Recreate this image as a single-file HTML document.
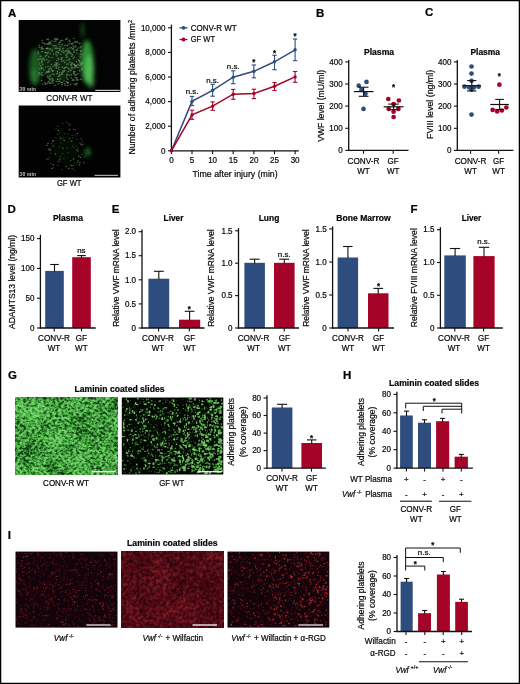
<!DOCTYPE html>
<html lang="en"><head><meta charset="utf-8"><title>Figure</title>
<style>
html,body{margin:0;padding:0;background:#fff;}
body{width:520px;height:684px;overflow:hidden;}
svg{display:block;font-family:"Liberation Sans",Arial,Helvetica,sans-serif;}
text{stroke:#141414;stroke-width:0.22px;}
text.w{stroke:none;}
</style></head><body>
<svg width="520" height="684" viewBox="0 0 520 684">
<defs>
<filter id="fG1" x="0" y="0" width="100%" height="100%" color-interpolation-filters="sRGB">
 <feTurbulence type="fractalNoise" baseFrequency="0.34 0.40" numOctaves="3" seed="7"/>
 <feColorMatrix type="matrix" values="1 0 0 0 0  1 0 0 0 0  1 0 0 0 0  0 0 0 0 1" result="f"/>
 <feTurbulence type="fractalNoise" baseFrequency="0.045" numOctaves="2" seed="21"/>
 <feColorMatrix type="matrix" values="1 0 0 0 0  1 0 0 0 0  1 0 0 0 0  0 0 0 0 1" result="c"/>
 <feComposite in="f" in2="c" operator="arithmetic" k1="0" k2="2.2" k3="0.9" k4="-1.03"/>
 <feComponentTransfer>
  <feFuncR type="table" tableValues="0.07 0.15 0.25 0.36 0.45"/>
  <feFuncG type="table" tableValues="0.24 0.42 0.60 0.75 0.84"/>
  <feFuncB type="table" tableValues="0.08 0.15 0.23 0.33 0.42"/>
 </feComponentTransfer>
 <feGaussianBlur stdDeviation="0.5"/>
</filter>
<filter id="fG2" x="0" y="0" width="100%" height="100%" color-interpolation-filters="sRGB">
 <feTurbulence type="fractalNoise" baseFrequency="0.44" numOctaves="2" seed="3"/>
 <feColorMatrix type="matrix" values="1 0 0 0 0  1 0 0 0 0  1 0 0 0 0  0 0 0 0 1" result="f"/>
 <feComposite in="f" in2="SourceGraphic" operator="arithmetic" k1="0" k2="4.0" k3="1.0" k4="-2.45"/>
 <feComponentTransfer>
  <feFuncR type="table" tableValues="0.01 0.18 0.36 0.48"/>
  <feFuncG type="table" tableValues="0.02 0.42 0.74 0.88"/>
  <feFuncB type="table" tableValues="0.01 0.15 0.30 0.40"/>
 </feComponentTransfer>
 <feGaussianBlur stdDeviation="0.35"/>
</filter>
<filter id="fI1" x="0" y="0" width="100%" height="100%" color-interpolation-filters="sRGB">
 <feTurbulence type="fractalNoise" baseFrequency="0.36" numOctaves="3" seed="5"/>
 <feColorMatrix type="matrix" values="1 0 0 0 0  1 0 0 0 0  1 0 0 0 0  0 0 0 0 1" result="f"/>
 <feTurbulence type="fractalNoise" baseFrequency="0.03" numOctaves="2" seed="6"/>
 <feColorMatrix type="matrix" values="1 0 0 0 0  1 0 0 0 0  1 0 0 0 0  0 0 0 0 1" result="c"/>
 <feComposite in="f" in2="c" operator="arithmetic" k1="0" k2="4.5" k3="1.2" k4="-2.75"/>
 <feComponentTransfer>
  <feFuncR type="table" tableValues="0.06 0.20 0.36 0.45"/>
  <feFuncG type="table" tableValues="0.015 0.04 0.07 0.09"/>
  <feFuncB type="table" tableValues="0.04 0.06 0.09 0.11"/>
 </feComponentTransfer>
</filter>
<filter id="fI2" x="0" y="0" width="100%" height="100%" color-interpolation-filters="sRGB">
 <feTurbulence type="fractalNoise" baseFrequency="0.30" numOctaves="3" seed="9"/>
 <feColorMatrix type="matrix" values="1 0 0 0 0  1 0 0 0 0  1 0 0 0 0  0 0 0 0 1" result="f"/>
 <feTurbulence type="fractalNoise" baseFrequency="0.04" numOctaves="2" seed="10"/>
 <feColorMatrix type="matrix" values="1 0 0 0 0  1 0 0 0 0  1 0 0 0 0  0 0 0 0 1" result="c"/>
 <feComposite in="f" in2="c" operator="arithmetic" k1="0" k2="1.6" k3="0.6" k4="-0.60"/>
 <feComponentTransfer>
  <feFuncR type="table" tableValues="0.15 0.23 0.31 0.40 0.50"/>
  <feFuncG type="table" tableValues="0.01 0.025 0.045 0.07 0.11"/>
  <feFuncB type="table" tableValues="0.04 0.06 0.085 0.11 0.14"/>
 </feComponentTransfer>
 <feGaussianBlur stdDeviation="0.4"/>
</filter>
<filter id="fI3" x="0" y="0" width="100%" height="100%" color-interpolation-filters="sRGB">
 <feTurbulence type="fractalNoise" baseFrequency="0.40" numOctaves="2" seed="13"/>
 <feColorMatrix type="matrix" values="1 0 0 0 0  1 0 0 0 0  1 0 0 0 0  0 0 0 0 1" result="f"/>
 <feComposite in="f" in2="SourceGraphic" operator="arithmetic" k1="0" k2="4.0" k3="1.0" k4="-2.55"/>
 <feComponentTransfer>
  <feFuncR type="table" tableValues="0.06 0.32 0.55 0.70"/>
  <feFuncG type="table" tableValues="0.01 0.05 0.10 0.15"/>
  <feFuncB type="table" tableValues="0.04 0.08 0.12 0.16"/>
 </feComponentTransfer>
 <feGaussianBlur stdDeviation="0.35"/>
</filter>
<filter id="blur3" x="-50%" y="-50%" width="200%" height="200%"><feGaussianBlur stdDeviation="2.2"/></filter>
<filter id="blur1" x="-50%" y="-50%" width="200%" height="200%"><feGaussianBlur stdDeviation="1.1"/></filter>
<filter id="blur05" x="-20%" y="-20%" width="140%" height="140%"><feGaussianBlur stdDeviation="0.35"/></filter>
<linearGradient id="gG2" x1="0" y1="0" x2="1" y2="0.7">
 <stop offset="0" stop-color="#505050"/><stop offset="0.5" stop-color="#707070"/><stop offset="1" stop-color="#a8a8a8"/>
</linearGradient>
<linearGradient id="gI3" x1="0" y1="0.2" x2="1" y2="0.5">
 <stop offset="0" stop-color="#585858"/><stop offset="0.5" stop-color="#787878"/><stop offset="1" stop-color="#989898"/>
</linearGradient>
<mask id="mG2"><rect x="121.8" y="397.5" width="101.5" height="77" fill="url(#gG2)"/></mask>
<clipPath id="cA1"><rect x="18.7" y="20" width="101.7" height="72"/></clipPath>
<clipPath id="cA2"><rect x="18.7" y="105.5" width="101.7" height="72"/></clipPath>
</defs>
<rect x="0.0" y="0.0" width="520.0" height="684.0" fill="#fff"/>
<rect x="0.6" y="0.6" width="518.8" height="682.8" fill="none" stroke="#000" stroke-width="1.3"/>
<text font-size="11.5" font-weight="bold" transform="translate(7.9 16.5)" fill="#000" stroke="#000">A</text>
<text font-size="11.5" font-weight="bold" transform="translate(316.0 16.5)" fill="#000" stroke="#000">B</text>
<text font-size="11.5" font-weight="bold" transform="translate(425.0 16.4)" fill="#000" stroke="#000">C</text>
<text font-size="11.5" font-weight="bold" transform="translate(7.4 213.2)" fill="#000" stroke="#000">D</text>
<text font-size="11.5" font-weight="bold" transform="translate(111.8 213.2)" fill="#000" stroke="#000">E</text>
<text font-size="11.5" font-weight="bold" transform="translate(410.4 213.2)" fill="#000" stroke="#000">F</text>
<text font-size="11.5" font-weight="bold" transform="translate(8.0 378.8)" fill="#000" stroke="#000">G</text>
<text font-size="11.5" font-weight="bold" transform="translate(343.0 378.7)" fill="#000" stroke="#000">H</text>
<text font-size="11.5" font-weight="bold" transform="translate(7.7 539.3)" fill="#000" stroke="#000">I</text>
<rect x="18.7" y="20.0" width="101.7" height="72.0" fill="#020302"/>
<g clip-path="url(#cA1)">
<g filter="url(#blur3)">
<ellipse cx="35.3" cy="67" rx="6.2" ry="18.5" fill="#226a28" opacity="0.8"/>
<ellipse cx="33.5" cy="76" rx="3" ry="8" fill="#38a03e" opacity="0.5"/>
<ellipse cx="87" cy="62" rx="6.4" ry="22" fill="#2f9637" opacity="0.95"/>
<ellipse cx="89.5" cy="70" rx="4.6" ry="15" fill="#58c45c" opacity="0.8"/>
<ellipse cx="91" cy="82" rx="3.5" ry="6" fill="#4db852" opacity="0.6"/>
<ellipse cx="82.5" cy="30" rx="1.4" ry="8" fill="#2a8230" opacity="0.7"/>
<ellipse cx="59" cy="62" rx="19" ry="20" fill="#0c2a0f" opacity="0.8"/>
</g>
<path d="M66.1 39.2h.6M50.1 48.7h.6M70.4 70.5h.6M77.3 42.2h.6M56.6 39.4h.6M47.6 62.3h.6M39.2 47.5h.6M66.6 64.2h.6M47.7 66.3h.6M73.6 38.3h.6M73.5 71.5h.6M53.0 45.5h.6M80.1 54.2h.6M42.1 42.6h.6M75.3 67.0h.6M73.5 73.0h.6M61.6 84.7h.6M54.7 64.5h.6M74.5 67.7h.6M75.9 65.7h.6M69.0 40.2h.6M48.0 51.9h.6M41.5 49.2h.6M42.4 51.3h.6M66.0 55.5h.6M54.3 48.1h.6M49.7 83.0h.6M66.5 67.2h.6M45.5 73.0h.6M45.2 56.2h.6M81.5 68.7h.6M62.5 70.9h.6M75.1 75.2h.6M48.1 39.5h.6M51.9 50.9h.6M47.3 83.3h.6M76.6 53.1h.6M66.8 57.0h.6M78.2 60.0h.6M49.7 49.8h.6M62.7 50.6h.6M63.7 81.1h.6M55.6 48.5h.6M81.9 62.5h.6M42.0 40.3h.6M42.8 68.1h.6M72.9 58.3h.6M40.8 56.3h.6M81.8 63.4h.6M80.7 79.3h.6M38.5 72.6h.6M68.0 63.8h.6M49.7 68.8h.6M42.9 58.9h.6M58.0 83.8h.6M76.5 50.6h.6M60.0 46.6h.6M78.2 79.8h.6M51.1 68.7h.6M64.8 45.3h.6M71.6 63.9h.6M72.3 63.5h.6M38.0 53.6h.6M76.7 77.9h.6M51.5 40.8h.6M76.6 83.5h.6M41.8 61.3h.6M41.0 74.5h.6M71.7 44.2h.6M58.9 64.4h.6M49.7 79.9h.6M56.6 48.2h.6M61.7 73.0h.6M46.9 53.0h.6M81.8 69.2h.6M57.3 62.8h.6M43.3 48.8h.6M52.9 66.2h.6M48.1 48.6h.6M41.1 68.3h.6M48.1 81.5h.6M75.8 41.4h.6M48.5 70.1h.6M47.4 44.4h.6M79.2 65.4h.6M58.8 75.7h.6M73.5 47.1h.6M42.3 58.7h.6M56.6 60.4h.6M70.1 70.3h.6M55.7 54.3h.6M75.9 49.9h.6M46.4 59.5h.6M56.6 51.4h.6M49.0 82.3h.6M57.5 79.3h.6M62.2 40.4h.6M75.3 46.0h.6M59.4 48.3h.6M55.6 40.8h.6M54.7 85.3h.6M49.7 75.6h.6M58.0 58.3h.6M62.5 72.5h.6M44.8 52.2h.6M80.6 65.8h.6M61.9 73.9h.6M40.5 66.0h.6M60.1 78.9h.6M44.9 84.1h.6M41.5 46.9h.6M64.2 70.4h.6M48.3 43.8h.6M77.2 49.8h.6M64.2 67.7h.6M56.4 66.0h.6M61.0 82.9h.6M47.0 72.4h.6M48.5 57.0h.6M67.6 52.4h.6M51.9 74.1h.6M41.2 60.0h.6M41.2 48.2h.6M49.7 82.8h.6M76.8 80.2h.6M54.3 45.6h.6M74.7 71.8h.6M64.9 85.4h.6M66.8 38.4h.6M74.0 52.4h.6M67.2 83.1h.6M43.9 43.5h.6M42.7 64.6h.6M50.0 67.0h.6M69.6 47.8h.6M65.9 50.7h.6M59.5 81.5h.6M75.2 42.4h.6M56.6 51.3h.6M38.2 75.0h.6M66.0 50.6h.6M70.6 64.5h.6M56.8 38.5h.6M41.3 80.4h.6M77.8 64.2h.6M74.7 66.0h.6M44.5 44.1h.6M51.6 81.2h.6M73.0 79.3h.6M77.6 48.1h.6M49.0 42.9h.6M72.3 80.4h.6M55.9 67.8h.6M44.8 82.6h.6M76.0 84.9h.6M73.7 80.3h.6M39.1 73.4h.6M52.6 82.7h.6M73.3 79.5h.6M73.7 50.8h.6M72.6 43.2h.6M76.4 79.2h.6M47.8 77.2h.6M58.3 52.6h.6M73.0 48.9h.6M39.0 47.3h.6M52.4 79.5h.6M80.5 51.4h.6M66.2 57.2h.6M81.2 63.7h.6M79.3 43.5h.6M80.7 46.6h.6M80.4 50.7h.6M42.8 58.9h.6M70.1 53.1h.6M64.7 62.5h.6M54.9 65.7h.6M49.2 72.0h.6M61.7 72.5h.6M70.6 70.2h.6M54.0 41.4h.6M67.2 53.8h.6M51.8 78.7h.6M69.7 52.4h.6M51.6 57.6h.6M55.7 52.2h.6M43.6 58.2h.6M79.4 70.5h.6M77.7 67.5h.6M51.2 64.3h.6M38.0 51.8h.6M56.9 65.8h.6M66.8 60.3h.6M57.5 48.3h.6M58.8 81.3h.6M73.0 46.1h.6M41.7 62.7h.6M65.8 54.1h.6M74.0 74.1h.6M67.6 48.8h.6M46.8 39.2h.6M48.8 60.8h.6M75.4 41.5h.6M56.2 68.2h.6M46.6 71.4h.6M59.8 49.7h.6M66.9 38.3h.6M71.0 75.0h.6M42.7 58.4h.6M45.7 84.0h.6M60.8 40.4h.6M49.0 78.7h.6M58.1 76.5h.6M67.4 85.4h.6M64.2 83.6h.6M77.2 67.4h.6M69.6 62.2h.6M74.5 64.3h.6M77.5 73.7h.6M58.9 50.4h.6M48.9 68.6h.6M71.7 63.0h.6M65.6 51.2h.6M41.4 51.7h.6M50.0 53.3h.6M61.8 44.6h.6M48.2 71.3h.6M69.1 41.1h.6M55.9 64.0h.6M56.3 47.9h.6M56.5 81.4h.6M63.7 71.4h.6M75.7 74.7h.6M54.7 38.3h.6M53.5 74.2h.6M75.6 83.8h.6M56.4 73.9h.6M62.0 67.0h.6M47.7 48.5h.6M57.2 39.4h.6M52.8 70.6h.6M55.8 45.9h.6M58.6 44.1h.6M65.4 39.3h.6M55.3 65.1h.6M39.2 68.9h.6M44.0 60.2h.6M40.2 56.2h.6M47.3 53.7h.6M71.5 56.2h.6M71.1 77.9h.6M49.1 41.9h.6M38.9 63.9h.6M82.0 54.8h.6M66.6 75.5h.6M66.7 74.2h.6M79.8 47.6h.6M38.9 45.3h.6M43.6 70.1h.6M62.8 48.5h.6M68.8 74.8h.6M45.4 67.1h.6M70.9 43.5h.6M74.0 84.3h.6M51.7 70.5h.6M80.2 57.0h.6M69.5 41.6h.6M68.4 68.1h.6M42.5 75.1h.6M75.4 66.8h.6M72.4 54.7h.6M56.8 55.8h.6M60.3 54.4h.6M75.4 77.5h.6M42.6 84.1h.6M66.0 77.8h.6M69.1 58.9h.6M70.3 84.3h.6M49.9 76.8h.6M61.7 61.2h.6M57.2 73.1h.6M49.8 78.9h.6M74.6 42.2h.6M76.8 49.7h.6M58.4 67.3h.6M54.7 39.4h.6M75.4 46.7h.6M47.3 76.3h.6M53.0 80.3h.6M68.9 51.3h.6M41.8 72.6h.6M59.5 74.4h.6M68.4 69.0h.6M59.6 76.1h.6M42.1 48.6h.6M68.4 52.7h.6M63.6 60.7h.6M61.4 58.4h.6M70.8 53.9h.6M68.9 51.0h.6" stroke="#6a9c68" stroke-width="1.35" stroke-linecap="round" fill="none" opacity="0.62" filter="url(#blur05)"/>
<path d="M49.1 43.8h.4M46.5 43.7h.4M61.6 74.6h.4M46.1 48.4h.4M59.3 72.8h.4M81.0 63.2h.4M50.5 42.8h.4M46.5 48.9h.4M61.5 51.2h.4M80.9 64.6h.4M68.7 44.1h.4M76.2 61.6h.4M76.4 65.6h.4M58.7 59.1h.4M79.4 60.9h.4M74.2 57.2h.4M41.3 68.2h.4M62.8 52.6h.4M71.6 67.1h.4M72.8 48.8h.4M61.0 59.6h.4M57.5 79.3h.4M65.3 67.3h.4M47.1 48.1h.4M67.1 45.5h.4M38.1 59.6h.4M64.1 52.0h.4M48.2 71.9h.4M68.9 59.8h.4M68.2 82.3h.4M72.7 68.0h.4M67.1 82.8h.4M56.7 64.1h.4M66.5 81.6h.4M45.3 52.8h.4M71.0 65.3h.4M50.7 44.0h.4M68.3 71.6h.4M79.5 62.0h.4M59.7 41.9h.4M39.8 58.7h.4M52.2 50.0h.4M74.8 65.6h.4M67.6 50.9h.4M58.7 69.3h.4M63.8 68.5h.4M59.6 42.4h.4M53.3 54.0h.4M67.5 79.2h.4M52.5 71.3h.4M50.7 83.4h.4M73.8 64.4h.4M58.0 53.1h.4M55.8 62.7h.4M61.9 57.8h.4M46.3 55.4h.4M71.3 68.0h.4M71.4 47.8h.4M62.2 82.5h.4M57.3 71.5h.4" stroke="#a8c490" stroke-width="1.0" stroke-linecap="round" fill="none" opacity="0.7" filter="url(#blur05)"/>
</g>
<text font-size="5.6" font-weight="bold" textLength="16.4" lengthAdjust="spacingAndGlyphs" transform="translate(19.6 91.0)" fill="#f2f2f2" stroke="#f2f2f2">30 min</text>
<line x1="95.3" y1="90.4" x2="119.8" y2="90.4" stroke="#d0d0d0" stroke-width="1.2"/>
<text font-size="8.7" text-anchor="middle" textLength="46.2" lengthAdjust="spacingAndGlyphs" transform="translate(69.4 100.7)">CONV-R WT</text>
<rect x="18.7" y="105.5" width="101.7" height="72.0" fill="#020202"/>
<g clip-path="url(#cA2)">
<g filter="url(#blur3)">
<ellipse cx="66" cy="150" rx="12" ry="14" fill="#061507" opacity="0.7"/>
<ellipse cx="87.5" cy="152" rx="3.2" ry="4.5" fill="#1c6a26" opacity="0.85"/>
</g>
<path d="M75.2 129.7h.5M53.6 146.2h.5M68.1 123.2h.5M59.1 161.2h.5M72.5 137.3h.5M59.3 158.9h.5M70.4 160.5h.5M59.6 132.8h.5M74.2 169.9h.5M71.9 135.3h.5M72.5 145.8h.5M67.9 134.1h.5M73.4 129.4h.5M81.7 154.4h.5M77.9 160.5h.5M74.3 163.1h.5M71.2 141.2h.5M80.7 138.7h.5M62.3 153.7h.5M77.2 162.1h.5M64.2 133.8h.5M49.3 150.5h.5M81.8 140.0h.5M50.7 150.6h.5M48.2 159.2h.5M60.1 136.9h.5M53.0 145.2h.5M87.8 149.8h.5M57.6 165.4h.5M52.9 141.4h.5M46.5 159.6h.5M89.3 152.9h.5M53.6 140.4h.5M76.7 139.5h.5M58.0 161.8h.5M55.6 137.4h.5M73.5 147.5h.5M59.2 147.0h.5M78.9 156.5h.5M69.8 164.9h.5M59.7 159.3h.5M75.1 135.7h.5M78.5 155.2h.5M77.6 161.4h.5M76.2 164.9h.5M67.2 147.7h.5M60.2 156.6h.5M71.9 168.5h.5M84.7 156.6h.5M62.3 123.1h.5M63.6 158.9h.5M67.8 152.7h.5M78.3 148.0h.5M72.9 165.5h.5M52.7 167.2h.5M60.6 143.1h.5M50.7 164.0h.5M78.2 156.4h.5M65.9 122.2h.5M69.5 138.6h.5M50.8 153.3h.5M72.1 168.8h.5M63.2 138.1h.5M52.0 146.9h.5M49.3 157.6h.5M55.9 128.4h.5M58.0 126.2h.5M46.7 158.9h.5M57.4 134.2h.5M81.8 142.2h.5M83.3 144.2h.5M51.2 143.7h.5M71.0 141.3h.5M69.0 138.3h.5M78.9 143.0h.5M76.4 146.1h.5M61.6 169.7h.5M71.5 141.0h.5" stroke="#467a48" stroke-width="0.95" stroke-linecap="round" fill="none" opacity="0.65" filter="url(#blur05)"/>
<path d="M51.8 168.6h.5M80.4 144.0h.5M65.9 166.5h.5M69.5 124.9h.5M55.1 154.0h.5M47.8 143.6h.5M68.5 168.4h.5M80.5 157.2h.5M79.3 164.9h.5M73.2 159.0h.5M58.2 130.5h.5M62.6 148.1h.5M69.2 129.6h.5M48.4 149.1h.5M76.6 149.9h.5M77.0 133.4h.5M71.5 165.4h.5M46.7 145.4h.5M60.5 138.6h.5M52.5 141.0h.5M63.8 140.5h.5M77.8 151.0h.5M53.1 164.7h.5M81.6 144.9h.5M83.6 162.9h.5M49.9 149.2h.5M79.7 162.2h.5" stroke="#b4c48a" stroke-width="0.9" stroke-linecap="round" fill="none" opacity="0.7" filter="url(#blur05)"/>
</g>
<text font-size="5.6" font-weight="bold" textLength="16.4" lengthAdjust="spacingAndGlyphs" transform="translate(19.6 175.9)" fill="#f2f2f2" stroke="#f2f2f2">30 min</text>
<line x1="94.5" y1="175.4" x2="118.0" y2="175.4" stroke="#a8a8a8" stroke-width="1.2"/>
<text font-size="8.7" text-anchor="middle" textLength="24.5" lengthAdjust="spacingAndGlyphs" transform="translate(69.2 186.3)">GF WT</text>
<line x1="171.4" y1="24.7" x2="171.4" y2="151.5" stroke="#111" stroke-width="1.3"/>
<line x1="170.8" y1="150.8" x2="298.8" y2="150.8" stroke="#111" stroke-width="1.3"/>
<line x1="168.0" y1="150.8" x2="171.4" y2="150.8" stroke="#111" stroke-width="1.1"/>
<text font-size="8.7" text-anchor="end" transform="translate(165.5 153.5) scale(0.925 1)">0</text>
<line x1="168.0" y1="126.2" x2="171.4" y2="126.2" stroke="#111" stroke-width="1.1"/>
<text font-size="8.7" text-anchor="end" transform="translate(165.5 128.9) scale(0.925 1)">2,000</text>
<line x1="168.0" y1="101.6" x2="171.4" y2="101.6" stroke="#111" stroke-width="1.1"/>
<text font-size="8.7" text-anchor="end" transform="translate(165.5 104.3) scale(0.925 1)">4,000</text>
<line x1="168.0" y1="77.0" x2="171.4" y2="77.0" stroke="#111" stroke-width="1.1"/>
<text font-size="8.7" text-anchor="end" transform="translate(165.5 79.7) scale(0.925 1)">6,000</text>
<line x1="168.0" y1="52.4" x2="171.4" y2="52.4" stroke="#111" stroke-width="1.1"/>
<text font-size="8.7" text-anchor="end" transform="translate(165.5 55.1) scale(0.925 1)">8,000</text>
<line x1="168.0" y1="27.8" x2="171.4" y2="27.8" stroke="#111" stroke-width="1.1"/>
<text font-size="8.7" text-anchor="end" transform="translate(165.5 30.5) scale(0.925 1)">10,000</text>
<line x1="171.4" y1="150.8" x2="171.4" y2="154.2" stroke="#111" stroke-width="1.1"/>
<line x1="192.0" y1="150.8" x2="192.0" y2="154.2" stroke="#111" stroke-width="1.1"/>
<line x1="212.6" y1="150.8" x2="212.6" y2="154.2" stroke="#111" stroke-width="1.1"/>
<line x1="233.2" y1="150.8" x2="233.2" y2="154.2" stroke="#111" stroke-width="1.1"/>
<line x1="253.9" y1="150.8" x2="253.9" y2="154.2" stroke="#111" stroke-width="1.1"/>
<line x1="274.5" y1="150.8" x2="274.5" y2="154.2" stroke="#111" stroke-width="1.1"/>
<line x1="295.1" y1="150.8" x2="295.1" y2="154.2" stroke="#111" stroke-width="1.1"/>
<text font-size="8.7" text-anchor="middle" transform="translate(171.4 163.4) scale(0.925 1)">0</text>
<text font-size="8.7" text-anchor="middle" transform="translate(192.0 163.4) scale(0.925 1)">5</text>
<text font-size="8.7" text-anchor="middle" transform="translate(212.6 163.4) scale(0.925 1)">10</text>
<text font-size="8.7" text-anchor="middle" transform="translate(233.2 163.4) scale(0.925 1)">15</text>
<text font-size="8.7" text-anchor="middle" transform="translate(253.9 163.4) scale(0.925 1)">20</text>
<text font-size="8.7" text-anchor="middle" transform="translate(274.5 163.4) scale(0.925 1)">25</text>
<text font-size="8.7" text-anchor="middle" transform="translate(295.1 163.4) scale(0.925 1)">30</text>
<text font-size="9.8" textLength="85.2" lengthAdjust="spacingAndGlyphs" transform="translate(192.5 177.2)">Time after injury (min)</text>
<text font-size="9.7" textLength="134.5" lengthAdjust="spacingAndGlyphs" transform="translate(135.3 154.6) rotate(-90)">Number of adhering platelets /mm<tspan dy="-3.2" font-size="6">2</tspan></text>
<path d="M171.4 150.8 L192.0 101.4 L212.6 90.3 L233.2 77.2 L253.9 71.3 L274.5 61.8 L295.1 49.8" fill="none" stroke="#2f4c7e" stroke-width="1.5"/>
<circle cx="171.4" cy="150.8" r="1.7" fill="#2f4c7e"/>
<line x1="192.0" y1="96.4" x2="192.0" y2="105.6" stroke="#2f4c7e" stroke-width="1.1"/>
<line x1="189.8" y1="96.4" x2="194.2" y2="96.4" stroke="#2f4c7e" stroke-width="1.1"/>
<line x1="189.8" y1="105.6" x2="194.2" y2="105.6" stroke="#2f4c7e" stroke-width="1.1"/>
<circle cx="192.0" cy="101.4" r="1.7" fill="#2f4c7e"/>
<line x1="212.6" y1="84.3" x2="212.6" y2="96.2" stroke="#2f4c7e" stroke-width="1.1"/>
<line x1="210.4" y1="84.3" x2="214.8" y2="84.3" stroke="#2f4c7e" stroke-width="1.1"/>
<line x1="210.4" y1="96.2" x2="214.8" y2="96.2" stroke="#2f4c7e" stroke-width="1.1"/>
<circle cx="212.6" cy="90.3" r="1.7" fill="#2f4c7e"/>
<line x1="233.2" y1="70.8" x2="233.2" y2="83.7" stroke="#2f4c7e" stroke-width="1.1"/>
<line x1="231.1" y1="70.8" x2="235.4" y2="70.8" stroke="#2f4c7e" stroke-width="1.1"/>
<line x1="231.1" y1="83.7" x2="235.4" y2="83.7" stroke="#2f4c7e" stroke-width="1.1"/>
<circle cx="233.2" cy="77.2" r="1.7" fill="#2f4c7e"/>
<line x1="253.9" y1="65.0" x2="253.9" y2="77.8" stroke="#2f4c7e" stroke-width="1.1"/>
<line x1="251.7" y1="65.0" x2="256.1" y2="65.0" stroke="#2f4c7e" stroke-width="1.1"/>
<line x1="251.7" y1="77.8" x2="256.1" y2="77.8" stroke="#2f4c7e" stroke-width="1.1"/>
<circle cx="253.9" cy="71.3" r="1.7" fill="#2f4c7e"/>
<line x1="274.5" y1="55.3" x2="274.5" y2="69.7" stroke="#2f4c7e" stroke-width="1.1"/>
<line x1="272.3" y1="55.3" x2="276.7" y2="55.3" stroke="#2f4c7e" stroke-width="1.1"/>
<line x1="272.3" y1="69.7" x2="276.7" y2="69.7" stroke="#2f4c7e" stroke-width="1.1"/>
<circle cx="274.5" cy="61.8" r="1.7" fill="#2f4c7e"/>
<line x1="295.1" y1="39.0" x2="295.1" y2="60.7" stroke="#2f4c7e" stroke-width="1.1"/>
<line x1="292.9" y1="39.0" x2="297.3" y2="39.0" stroke="#2f4c7e" stroke-width="1.1"/>
<line x1="292.9" y1="60.7" x2="297.3" y2="60.7" stroke="#2f4c7e" stroke-width="1.1"/>
<circle cx="295.1" cy="49.8" r="1.7" fill="#2f4c7e"/>
<path d="M171.4 150.8 L192.0 114.9 L212.6 106.2 L233.2 94.2 L253.9 93.5 L274.5 86.2 L295.1 76.9" fill="none" stroke="#a60329" stroke-width="1.5"/>
<circle cx="171.4" cy="150.8" r="1.7" fill="#a60329"/>
<line x1="192.0" y1="110.2" x2="192.0" y2="119.3" stroke="#a60329" stroke-width="1.1"/>
<line x1="189.8" y1="110.2" x2="194.2" y2="110.2" stroke="#a60329" stroke-width="1.1"/>
<line x1="189.8" y1="119.3" x2="194.2" y2="119.3" stroke="#a60329" stroke-width="1.1"/>
<circle cx="192.0" cy="114.9" r="1.7" fill="#a60329"/>
<line x1="212.6" y1="101.9" x2="212.6" y2="110.3" stroke="#a60329" stroke-width="1.1"/>
<line x1="210.4" y1="101.9" x2="214.8" y2="101.9" stroke="#a60329" stroke-width="1.1"/>
<line x1="210.4" y1="110.3" x2="214.8" y2="110.3" stroke="#a60329" stroke-width="1.1"/>
<circle cx="212.6" cy="106.2" r="1.7" fill="#a60329"/>
<line x1="233.2" y1="89.4" x2="233.2" y2="99.3" stroke="#a60329" stroke-width="1.1"/>
<line x1="231.1" y1="89.4" x2="235.4" y2="89.4" stroke="#a60329" stroke-width="1.1"/>
<line x1="231.1" y1="99.3" x2="235.4" y2="99.3" stroke="#a60329" stroke-width="1.1"/>
<circle cx="233.2" cy="94.2" r="1.7" fill="#a60329"/>
<line x1="253.9" y1="89.2" x2="253.9" y2="98.6" stroke="#a60329" stroke-width="1.1"/>
<line x1="251.7" y1="89.2" x2="256.1" y2="89.2" stroke="#a60329" stroke-width="1.1"/>
<line x1="251.7" y1="98.6" x2="256.1" y2="98.6" stroke="#a60329" stroke-width="1.1"/>
<circle cx="253.9" cy="93.5" r="1.7" fill="#a60329"/>
<line x1="274.5" y1="82.6" x2="274.5" y2="90.5" stroke="#a60329" stroke-width="1.1"/>
<line x1="272.3" y1="82.6" x2="276.7" y2="82.6" stroke="#a60329" stroke-width="1.1"/>
<line x1="272.3" y1="90.5" x2="276.7" y2="90.5" stroke="#a60329" stroke-width="1.1"/>
<circle cx="274.5" cy="86.2" r="1.7" fill="#a60329"/>
<line x1="295.1" y1="71.5" x2="295.1" y2="82.3" stroke="#a60329" stroke-width="1.1"/>
<line x1="292.9" y1="71.5" x2="297.3" y2="71.5" stroke="#a60329" stroke-width="1.1"/>
<line x1="292.9" y1="82.3" x2="297.3" y2="82.3" stroke="#a60329" stroke-width="1.1"/>
<circle cx="295.1" cy="76.9" r="1.7" fill="#a60329"/>
<line x1="179.5" y1="27.8" x2="187.5" y2="27.8" stroke="#2f4c7e" stroke-width="1.3"/>
<circle cx="183.5" cy="27.8" r="1.9" fill="#2f4c7e"/>
<text font-size="8.7" textLength="46.0" lengthAdjust="spacingAndGlyphs" transform="translate(190.7 30.7)">CONV-R WT</text>
<line x1="179.5" y1="39.5" x2="187.5" y2="39.5" stroke="#a60329" stroke-width="1.3"/>
<circle cx="183.5" cy="39.5" r="1.9" fill="#a60329"/>
<text font-size="8.7" textLength="24.3" lengthAdjust="spacingAndGlyphs" transform="translate(190.7 42.4)">GF WT</text>
<text font-size="7.9" text-anchor="middle" transform="translate(192.0 94.1)">n.s.</text>
<text font-size="7.9" text-anchor="middle" transform="translate(212.6 82.5)">n.s.</text>
<text font-size="7.9" text-anchor="middle" transform="translate(233.2 68.6)">n.s.</text>
<text font-size="8.5" text-anchor="middle" font-weight="bold" transform="translate(253.9 65.3) scale(0.925 1)">*</text>
<text font-size="8.5" text-anchor="middle" font-weight="bold" transform="translate(274.5 55.6) scale(0.925 1)">*</text>
<text font-size="8.5" text-anchor="middle" font-weight="bold" transform="translate(295.1 39.3) scale(0.925 1)">*</text>
<text font-size="8.6" text-anchor="middle" font-weight="bold" textLength="30.2" lengthAdjust="spacingAndGlyphs" transform="translate(379.0 55.0)">Plasma</text>
<line x1="348.7" y1="60.0" x2="348.7" y2="151.1" stroke="#111" stroke-width="1.3"/>
<line x1="348.1" y1="150.4" x2="408.5" y2="150.4" stroke="#111" stroke-width="1.3"/>
<line x1="345.3" y1="150.4" x2="348.7" y2="150.4" stroke="#111" stroke-width="1.1"/>
<text font-size="8.7" text-anchor="end" transform="translate(342.8 153.1) scale(0.925 1)">0</text>
<line x1="345.3" y1="128.3" x2="348.7" y2="128.3" stroke="#111" stroke-width="1.1"/>
<text font-size="8.7" text-anchor="end" transform="translate(342.8 131.0) scale(0.925 1)">100</text>
<line x1="345.3" y1="106.1" x2="348.7" y2="106.1" stroke="#111" stroke-width="1.1"/>
<text font-size="8.7" text-anchor="end" transform="translate(342.8 108.8) scale(0.925 1)">200</text>
<line x1="345.3" y1="84.0" x2="348.7" y2="84.0" stroke="#111" stroke-width="1.1"/>
<text font-size="8.7" text-anchor="end" transform="translate(342.8 86.7) scale(0.925 1)">300</text>
<line x1="345.3" y1="61.9" x2="348.7" y2="61.9" stroke="#111" stroke-width="1.1"/>
<text font-size="8.7" text-anchor="end" transform="translate(342.8 64.6) scale(0.925 1)">400</text>
<line x1="363.5" y1="150.4" x2="363.5" y2="153.8" stroke="#111" stroke-width="1.1"/>
<line x1="393.2" y1="150.4" x2="393.2" y2="153.8" stroke="#111" stroke-width="1.1"/>
<text font-size="9.7" textLength="72.0" lengthAdjust="spacingAndGlyphs" transform="translate(323.8 141.8) rotate(-90)">VWF level (mU/ml)</text>
<circle cx="358.7" cy="85.7" r="2.35" fill="#2f4c7e"/>
<circle cx="366.5" cy="81.9" r="2.35" fill="#2f4c7e"/>
<circle cx="361.4" cy="89.9" r="2.35" fill="#2f4c7e"/>
<circle cx="365.4" cy="93.7" r="2.35" fill="#2f4c7e"/>
<circle cx="363.5" cy="108.9" r="2.35" fill="#2f4c7e"/>
<circle cx="388.3" cy="99.0" r="2.35" fill="#a60329"/>
<circle cx="398.9" cy="100.5" r="2.35" fill="#a60329"/>
<circle cx="393.6" cy="104.1" r="2.35" fill="#a60329"/>
<circle cx="388.7" cy="108.9" r="2.35" fill="#a60329"/>
<circle cx="398.4" cy="108.9" r="2.35" fill="#a60329"/>
<circle cx="393.6" cy="111.7" r="2.35" fill="#a60329"/>
<circle cx="393.6" cy="117.0" r="2.35" fill="#a60329"/>
<line x1="353.8" y1="91.6" x2="373.5" y2="91.6" stroke="#111" stroke-width="1.2"/>
<line x1="363.6" y1="87.2" x2="363.6" y2="96.3" stroke="#111" stroke-width="1.1"/>
<line x1="358.8" y1="87.2" x2="368.5" y2="87.2" stroke="#111" stroke-width="1.1"/>
<line x1="358.8" y1="96.3" x2="368.5" y2="96.3" stroke="#111" stroke-width="1.1"/>
<line x1="383.6" y1="106.8" x2="403.5" y2="106.8" stroke="#111" stroke-width="1.2"/>
<line x1="393.6" y1="104.1" x2="393.6" y2="109.6" stroke="#111" stroke-width="1.1"/>
<line x1="388.3" y1="104.1" x2="398.8" y2="104.1" stroke="#111" stroke-width="1.1"/>
<line x1="388.3" y1="109.6" x2="398.8" y2="109.6" stroke="#111" stroke-width="1.1"/>
<text font-size="8.5" text-anchor="middle" font-weight="bold" transform="translate(393.6 90.2) scale(0.925 1)">*</text>
<text font-size="8.7" text-anchor="middle" textLength="31.8" lengthAdjust="spacingAndGlyphs" transform="translate(363.5 163.5)">CONV-R</text>
<text font-size="8.7" text-anchor="middle" transform="translate(363.5 173.7) scale(0.925 1)">WT</text>
<text font-size="8.7" text-anchor="middle" transform="translate(393.2 163.5) scale(0.925 1)">GF</text>
<text font-size="8.7" text-anchor="middle" transform="translate(393.2 173.7) scale(0.925 1)">WT</text>
<text font-size="8.6" text-anchor="middle" font-weight="bold" textLength="29.6" lengthAdjust="spacingAndGlyphs" transform="translate(485.2 55.0)">Plasma</text>
<line x1="457.3" y1="60.0" x2="457.3" y2="151.1" stroke="#111" stroke-width="1.3"/>
<line x1="456.7" y1="150.4" x2="513.4" y2="150.4" stroke="#111" stroke-width="1.3"/>
<line x1="453.9" y1="150.4" x2="457.3" y2="150.4" stroke="#111" stroke-width="1.1"/>
<text font-size="8.7" text-anchor="end" transform="translate(451.4 153.1) scale(0.925 1)">0</text>
<line x1="453.9" y1="128.3" x2="457.3" y2="128.3" stroke="#111" stroke-width="1.1"/>
<text font-size="8.7" text-anchor="end" transform="translate(451.4 131.0) scale(0.925 1)">100</text>
<line x1="453.9" y1="106.1" x2="457.3" y2="106.1" stroke="#111" stroke-width="1.1"/>
<text font-size="8.7" text-anchor="end" transform="translate(451.4 108.8) scale(0.925 1)">200</text>
<line x1="453.9" y1="84.0" x2="457.3" y2="84.0" stroke="#111" stroke-width="1.1"/>
<text font-size="8.7" text-anchor="end" transform="translate(451.4 86.7) scale(0.925 1)">300</text>
<line x1="453.9" y1="61.9" x2="457.3" y2="61.9" stroke="#111" stroke-width="1.1"/>
<text font-size="8.7" text-anchor="end" transform="translate(451.4 64.6) scale(0.925 1)">400</text>
<line x1="470.6" y1="150.4" x2="470.6" y2="153.8" stroke="#111" stroke-width="1.1"/>
<line x1="498.6" y1="150.4" x2="498.6" y2="153.8" stroke="#111" stroke-width="1.1"/>
<text font-size="9.7" textLength="69.0" lengthAdjust="spacingAndGlyphs" transform="translate(433.2 138.9) rotate(-90)">FVIII level (ng/ml)</text>
<circle cx="471.5" cy="66.5" r="2.35" fill="#2f4c7e"/>
<circle cx="471.5" cy="73.6" r="2.35" fill="#2f4c7e"/>
<circle cx="471.5" cy="80.8" r="2.35" fill="#2f4c7e"/>
<circle cx="464.5" cy="86.7" r="2.35" fill="#2f4c7e"/>
<circle cx="469.1" cy="87.3" r="2.35" fill="#2f4c7e"/>
<circle cx="474.0" cy="87.3" r="2.35" fill="#2f4c7e"/>
<circle cx="478.6" cy="86.7" r="2.35" fill="#2f4c7e"/>
<circle cx="471.5" cy="89.7" r="2.35" fill="#2f4c7e"/>
<circle cx="471.5" cy="114.6" r="2.35" fill="#2f4c7e"/>
<circle cx="499.4" cy="84.7" r="2.35" fill="#a60329"/>
<circle cx="492.7" cy="109.9" r="2.35" fill="#a60329"/>
<circle cx="497.2" cy="111.5" r="2.35" fill="#a60329"/>
<circle cx="501.8" cy="110.5" r="2.35" fill="#a60329"/>
<circle cx="506.3" cy="107.5" r="2.35" fill="#a60329"/>
<line x1="462.5" y1="85.7" x2="481.0" y2="85.7" stroke="#111" stroke-width="1.2"/>
<line x1="471.8" y1="80.6" x2="471.8" y2="90.9" stroke="#111" stroke-width="1.1"/>
<line x1="467.1" y1="80.6" x2="476.4" y2="80.6" stroke="#111" stroke-width="1.1"/>
<line x1="467.1" y1="90.9" x2="476.4" y2="90.9" stroke="#111" stroke-width="1.1"/>
<line x1="490.3" y1="104.5" x2="508.9" y2="104.5" stroke="#111" stroke-width="1.2"/>
<line x1="499.6" y1="99.4" x2="499.6" y2="109.5" stroke="#111" stroke-width="1.1"/>
<line x1="495.3" y1="99.4" x2="503.9" y2="99.4" stroke="#111" stroke-width="1.1"/>
<line x1="495.3" y1="109.5" x2="503.9" y2="109.5" stroke="#111" stroke-width="1.1"/>
<text font-size="8.5" text-anchor="middle" font-weight="bold" transform="translate(499.4 79.4) scale(0.925 1)">*</text>
<text font-size="8.7" text-anchor="middle" textLength="31.8" lengthAdjust="spacingAndGlyphs" transform="translate(470.6 163.5)">CONV-R</text>
<text font-size="8.7" text-anchor="middle" transform="translate(470.6 173.7) scale(0.925 1)">WT</text>
<text font-size="8.7" text-anchor="middle" transform="translate(498.6 163.5) scale(0.925 1)">GF</text>
<text font-size="8.7" text-anchor="middle" transform="translate(498.6 173.7) scale(0.925 1)">WT</text>
<text font-size="8.6" text-anchor="middle" font-weight="bold" textLength="30.0" lengthAdjust="spacingAndGlyphs" transform="translate(67.9 220.5)">Plasma</text>
<rect x="45.2" y="270.9" width="18.6" height="57.1" fill="#2f4c7e"/>
<line x1="54.5" y1="264.5" x2="54.5" y2="271.4" stroke="#111" stroke-width="1.1"/>
<line x1="50.2" y1="264.5" x2="58.8" y2="264.5" stroke="#111" stroke-width="1.1"/>
<rect x="72.2" y="257.2" width="18.6" height="70.8" fill="#a60329"/>
<line x1="81.5" y1="255.6" x2="81.5" y2="257.7" stroke="#111" stroke-width="1.1"/>
<line x1="77.2" y1="255.6" x2="85.8" y2="255.6" stroke="#111" stroke-width="1.1"/>
<line x1="40.4" y1="234.8" x2="40.4" y2="328.6" stroke="#111" stroke-width="1.3"/>
<line x1="39.8" y1="328.0" x2="95.7" y2="328.0" stroke="#111" stroke-width="1.3"/>
<line x1="37.0" y1="328.0" x2="40.4" y2="328.0" stroke="#111" stroke-width="1.1"/>
<text font-size="8.7" text-anchor="end" transform="translate(34.5 330.7) scale(0.925 1)">0</text>
<line x1="37.0" y1="298.2" x2="40.4" y2="298.2" stroke="#111" stroke-width="1.1"/>
<text font-size="8.7" text-anchor="end" transform="translate(34.5 300.9) scale(0.925 1)">50</text>
<line x1="37.0" y1="268.4" x2="40.4" y2="268.4" stroke="#111" stroke-width="1.1"/>
<text font-size="8.7" text-anchor="end" transform="translate(34.5 271.1) scale(0.925 1)">100</text>
<line x1="37.0" y1="238.6" x2="40.4" y2="238.6" stroke="#111" stroke-width="1.1"/>
<text font-size="8.7" text-anchor="end" transform="translate(34.5 241.3) scale(0.925 1)">150</text>
<line x1="54.2" y1="328.0" x2="54.2" y2="331.4" stroke="#111" stroke-width="1.1"/>
<line x1="81.5" y1="328.0" x2="81.5" y2="331.4" stroke="#111" stroke-width="1.1"/>
<text font-size="9.7" textLength="94.0" lengthAdjust="spacingAndGlyphs" transform="translate(15.0 329.0) rotate(-90)">ADAMTS13 level (ng/ml)</text>
<text font-size="7.9" text-anchor="middle" transform="translate(81.4 252.9)">ns</text>
<text font-size="8.7" text-anchor="middle" textLength="31.8" lengthAdjust="spacingAndGlyphs" transform="translate(54.0 340.9)">CONV-R</text>
<text font-size="8.7" text-anchor="middle" transform="translate(54.0 351.1) scale(0.925 1)">WT</text>
<text font-size="8.7" text-anchor="middle" transform="translate(81.3 340.9) scale(0.925 1)">GF</text>
<text font-size="8.7" text-anchor="middle" transform="translate(81.3 351.1) scale(0.925 1)">WT</text>
<text font-size="8.6" text-anchor="middle" font-weight="bold" textLength="19.8" lengthAdjust="spacingAndGlyphs" transform="translate(173.5 220.5)">Liver</text>
<rect x="148.4" y="278.7" width="20.8" height="49.3" fill="#2f4c7e"/>
<line x1="158.8" y1="271.3" x2="158.8" y2="279.2" stroke="#111" stroke-width="1.1"/>
<line x1="153.9" y1="271.3" x2="163.8" y2="271.3" stroke="#111" stroke-width="1.1"/>
<rect x="179.0" y="319.7" width="21.2" height="8.3" fill="#a60329"/>
<line x1="189.6" y1="311.3" x2="189.6" y2="320.2" stroke="#111" stroke-width="1.1"/>
<line x1="184.7" y1="311.3" x2="194.5" y2="311.3" stroke="#111" stroke-width="1.1"/>
<line x1="142.0" y1="229.6" x2="142.0" y2="328.6" stroke="#111" stroke-width="1.3"/>
<line x1="141.3" y1="328.0" x2="204.5" y2="328.0" stroke="#111" stroke-width="1.3"/>
<line x1="138.6" y1="328.0" x2="142.0" y2="328.0" stroke="#111" stroke-width="1.1"/>
<text font-size="8.7" text-anchor="end" transform="translate(136.1 330.7) scale(0.925 1)">0</text>
<line x1="138.6" y1="303.9" x2="142.0" y2="303.9" stroke="#111" stroke-width="1.1"/>
<text font-size="8.7" text-anchor="end" transform="translate(136.1 306.6) scale(0.925 1)">0.5</text>
<line x1="138.6" y1="279.8" x2="142.0" y2="279.8" stroke="#111" stroke-width="1.1"/>
<text font-size="8.7" text-anchor="end" transform="translate(136.1 282.5) scale(0.925 1)">1.0</text>
<line x1="138.6" y1="255.7" x2="142.0" y2="255.7" stroke="#111" stroke-width="1.1"/>
<text font-size="8.7" text-anchor="end" transform="translate(136.1 258.4) scale(0.925 1)">1.5</text>
<line x1="138.6" y1="231.7" x2="142.0" y2="231.7" stroke="#111" stroke-width="1.1"/>
<text font-size="8.7" text-anchor="end" transform="translate(136.1 234.4) scale(0.925 1)">2.0</text>
<line x1="158.6" y1="328.0" x2="158.6" y2="331.4" stroke="#111" stroke-width="1.1"/>
<line x1="189.3" y1="328.0" x2="189.3" y2="331.4" stroke="#111" stroke-width="1.1"/>
<text font-size="9.7" textLength="97.5" lengthAdjust="spacingAndGlyphs" transform="translate(118.5 326.8) rotate(-90)">Relative VWF mRNA level</text>
<text font-size="8.5" text-anchor="middle" font-weight="bold" transform="translate(189.3 312.2) scale(0.925 1)">*</text>
<text font-size="8.7" text-anchor="middle" textLength="31.8" lengthAdjust="spacingAndGlyphs" transform="translate(158.0 340.9)">CONV-R</text>
<text font-size="8.7" text-anchor="middle" transform="translate(158.0 351.1) scale(0.925 1)">WT</text>
<text font-size="8.7" text-anchor="middle" transform="translate(189.5 340.9) scale(0.925 1)">GF</text>
<text font-size="8.7" text-anchor="middle" transform="translate(189.5 351.1) scale(0.925 1)">WT</text>
<text font-size="8.6" text-anchor="middle" font-weight="bold" textLength="20.6" lengthAdjust="spacingAndGlyphs" transform="translate(269.0 220.5)">Lung</text>
<rect x="244.4" y="262.8" width="20.5" height="65.2" fill="#2f4c7e"/>
<line x1="254.6" y1="259.2" x2="254.6" y2="263.3" stroke="#111" stroke-width="1.1"/>
<line x1="249.6" y1="259.2" x2="259.6" y2="259.2" stroke="#111" stroke-width="1.1"/>
<rect x="274.0" y="262.8" width="20.6" height="65.2" fill="#a60329"/>
<line x1="284.3" y1="259.2" x2="284.3" y2="263.3" stroke="#111" stroke-width="1.1"/>
<line x1="279.3" y1="259.2" x2="289.3" y2="259.2" stroke="#111" stroke-width="1.1"/>
<line x1="238.5" y1="228.1" x2="238.5" y2="328.6" stroke="#111" stroke-width="1.3"/>
<line x1="237.8" y1="328.0" x2="299.0" y2="328.0" stroke="#111" stroke-width="1.3"/>
<line x1="235.1" y1="328.0" x2="238.5" y2="328.0" stroke="#111" stroke-width="1.1"/>
<text font-size="8.7" text-anchor="end" transform="translate(232.6 330.7) scale(0.925 1)">0</text>
<line x1="235.1" y1="295.6" x2="238.5" y2="295.6" stroke="#111" stroke-width="1.1"/>
<text font-size="8.7" text-anchor="end" transform="translate(232.6 298.3) scale(0.925 1)">0.5</text>
<line x1="235.1" y1="263.2" x2="238.5" y2="263.2" stroke="#111" stroke-width="1.1"/>
<text font-size="8.7" text-anchor="end" transform="translate(232.6 265.9) scale(0.925 1)">1.0</text>
<line x1="235.1" y1="230.8" x2="238.5" y2="230.8" stroke="#111" stroke-width="1.1"/>
<text font-size="8.7" text-anchor="end" transform="translate(232.6 233.5) scale(0.925 1)">1.5</text>
<line x1="254.2" y1="328.0" x2="254.2" y2="331.4" stroke="#111" stroke-width="1.1"/>
<line x1="284.2" y1="328.0" x2="284.2" y2="331.4" stroke="#111" stroke-width="1.1"/>
<text font-size="9.7" textLength="97.5" lengthAdjust="spacingAndGlyphs" transform="translate(214.3 326.8) rotate(-90)">Relative VWF mRNA level</text>
<text font-size="7.9" text-anchor="middle" transform="translate(284.2 257.1)">n.s.</text>
<text font-size="8.7" text-anchor="middle" textLength="31.8" lengthAdjust="spacingAndGlyphs" transform="translate(253.6 340.9)">CONV-R</text>
<text font-size="8.7" text-anchor="middle" transform="translate(253.6 351.1) scale(0.925 1)">WT</text>
<text font-size="8.7" text-anchor="middle" transform="translate(284.3 340.9) scale(0.925 1)">GF</text>
<text font-size="8.7" text-anchor="middle" transform="translate(284.3 351.1) scale(0.925 1)">WT</text>
<text font-size="8.6" text-anchor="middle" font-weight="bold" textLength="54.3" lengthAdjust="spacingAndGlyphs" transform="translate(363.5 220.5)">Bone Marrow</text>
<rect x="337.6" y="257.5" width="20.5" height="70.5" fill="#2f4c7e"/>
<line x1="347.9" y1="246.5" x2="347.9" y2="258.0" stroke="#111" stroke-width="1.1"/>
<line x1="343.1" y1="246.5" x2="352.6" y2="246.5" stroke="#111" stroke-width="1.1"/>
<rect x="368.0" y="293.3" width="20.5" height="34.7" fill="#a60329"/>
<line x1="378.2" y1="288.4" x2="378.2" y2="293.8" stroke="#111" stroke-width="1.1"/>
<line x1="373.4" y1="288.4" x2="383.1" y2="288.4" stroke="#111" stroke-width="1.1"/>
<line x1="332.6" y1="226.4" x2="332.6" y2="328.6" stroke="#111" stroke-width="1.3"/>
<line x1="332.0" y1="328.0" x2="394.0" y2="328.0" stroke="#111" stroke-width="1.3"/>
<line x1="329.2" y1="328.0" x2="332.6" y2="328.0" stroke="#111" stroke-width="1.1"/>
<text font-size="8.7" text-anchor="end" transform="translate(326.7 330.7) scale(0.925 1)">0</text>
<line x1="329.2" y1="295.0" x2="332.6" y2="295.0" stroke="#111" stroke-width="1.1"/>
<text font-size="8.7" text-anchor="end" transform="translate(326.7 297.7) scale(0.925 1)">0.5</text>
<line x1="329.2" y1="262.0" x2="332.6" y2="262.0" stroke="#111" stroke-width="1.1"/>
<text font-size="8.7" text-anchor="end" transform="translate(326.7 264.7) scale(0.925 1)">1.0</text>
<line x1="329.2" y1="228.9" x2="332.6" y2="228.9" stroke="#111" stroke-width="1.1"/>
<text font-size="8.7" text-anchor="end" transform="translate(326.7 231.6) scale(0.925 1)">1.5</text>
<line x1="348.0" y1="328.0" x2="348.0" y2="331.4" stroke="#111" stroke-width="1.1"/>
<line x1="378.6" y1="328.0" x2="378.6" y2="331.4" stroke="#111" stroke-width="1.1"/>
<text font-size="9.7" textLength="97.5" lengthAdjust="spacingAndGlyphs" transform="translate(308.8 326.8) rotate(-90)">Relative VWF mRNA level</text>
<text font-size="8.5" text-anchor="middle" font-weight="bold" transform="translate(378.6 289.3) scale(0.925 1)">*</text>
<text font-size="8.7" text-anchor="middle" textLength="31.8" lengthAdjust="spacingAndGlyphs" transform="translate(347.9 340.9)">CONV-R</text>
<text font-size="8.7" text-anchor="middle" transform="translate(347.9 351.1) scale(0.925 1)">WT</text>
<text font-size="8.7" text-anchor="middle" transform="translate(378.6 340.9) scale(0.925 1)">GF</text>
<text font-size="8.7" text-anchor="middle" transform="translate(378.6 351.1) scale(0.925 1)">WT</text>
<text font-size="8.6" text-anchor="middle" font-weight="bold" textLength="19.6" lengthAdjust="spacingAndGlyphs" transform="translate(471.5 220.5)">Liver</text>
<rect x="444.3" y="255.4" width="21.5" height="72.6" fill="#2f4c7e"/>
<line x1="455.1" y1="248.5" x2="455.1" y2="255.9" stroke="#111" stroke-width="1.1"/>
<line x1="449.9" y1="248.5" x2="460.2" y2="248.5" stroke="#111" stroke-width="1.1"/>
<rect x="473.4" y="256.1" width="21.2" height="71.9" fill="#a60329"/>
<line x1="484.0" y1="247.3" x2="484.0" y2="256.6" stroke="#111" stroke-width="1.1"/>
<line x1="478.8" y1="247.3" x2="489.2" y2="247.3" stroke="#111" stroke-width="1.1"/>
<line x1="440.4" y1="227.2" x2="440.4" y2="328.6" stroke="#111" stroke-width="1.3"/>
<line x1="439.8" y1="328.0" x2="502.8" y2="328.0" stroke="#111" stroke-width="1.3"/>
<line x1="437.0" y1="328.0" x2="440.4" y2="328.0" stroke="#111" stroke-width="1.1"/>
<text font-size="8.7" text-anchor="end" transform="translate(434.5 330.7) scale(0.925 1)">0</text>
<line x1="437.0" y1="295.3" x2="440.4" y2="295.3" stroke="#111" stroke-width="1.1"/>
<text font-size="8.7" text-anchor="end" transform="translate(434.5 298.0) scale(0.925 1)">0.5</text>
<line x1="437.0" y1="262.5" x2="440.4" y2="262.5" stroke="#111" stroke-width="1.1"/>
<text font-size="8.7" text-anchor="end" transform="translate(434.5 265.2) scale(0.925 1)">1.0</text>
<line x1="437.0" y1="229.7" x2="440.4" y2="229.7" stroke="#111" stroke-width="1.1"/>
<text font-size="8.7" text-anchor="end" transform="translate(434.5 232.4) scale(0.925 1)">1.5</text>
<line x1="454.8" y1="328.0" x2="454.8" y2="331.4" stroke="#111" stroke-width="1.1"/>
<line x1="483.6" y1="328.0" x2="483.6" y2="331.4" stroke="#111" stroke-width="1.1"/>
<text font-size="9.7" textLength="99.0" lengthAdjust="spacingAndGlyphs" transform="translate(416.5 327.2) rotate(-90)">Relative FVIII mRNA level</text>
<text font-size="7.9" text-anchor="middle" transform="translate(483.6 243.8)">n.s.</text>
<text font-size="8.7" text-anchor="middle" textLength="31.8" lengthAdjust="spacingAndGlyphs" transform="translate(453.9 340.5)">CONV-R</text>
<text font-size="8.7" text-anchor="middle" transform="translate(453.9 350.7) scale(0.925 1)">WT</text>
<text font-size="8.7" text-anchor="middle" transform="translate(483.6 340.5) scale(0.925 1)">GF</text>
<text font-size="8.7" text-anchor="middle" transform="translate(483.6 350.7) scale(0.925 1)">WT</text>
<text font-size="8.6" text-anchor="middle" font-weight="bold" textLength="90.0" lengthAdjust="spacingAndGlyphs" transform="translate(119.5 392.0)">Laminin coated slides</text>
<rect x="15.5" y="397.5" width="102.0" height="77.0" fill="#2f7a33"/>
<rect x="15.5" y="397.5" width="102.0" height="77.0" fill="#3c963e" filter="url(#fG1)"/>
<line x1="91.8" y1="471.7" x2="115.6" y2="471.7" stroke="#f4f4f4" stroke-width="1.3"/>
<rect x="121.8" y="397.5" width="101.5" height="77.0" fill="#030803"/>
<svg x="121.8" y="397.5" width="101.5" height="77.0" viewBox="121.8 397.5 101.5 77.0" overflow="hidden"><path d="M180.3 412.7v0.6M169.0 448.0h0.2M213.9 434.6v0.5M219.2 403.4h0.2M166.8 438.5v0.2M146.2 457.6h0.3M165.3 421.0v0.2M188.7 464.5v0.3M145.2 403.9v0.5M123.0 433.0v0.4M201.7 426.0v0.3M178.7 409.6h0.1M150.1 455.5v0.3M211.8 440.9v0.2M209.0 411.7h0.4M217.5 403.1v0.4M206.0 407.0v0.5M201.4 408.7h0.2M196.0 465.2h0.3M130.5 409.4v0.3M129.1 439.3v0.4M168.6 412.6v0.4M131.4 468.6h0.2M164.8 437.5v0.5M146.8 419.2h0.6M123.6 445.7v0.5M187.8 401.4v0.3M169.4 412.8v0.4M155.7 468.6v0.2M211.5 428.2h0.1M173.9 414.4h0.4M156.5 425.9h0.3M189.9 449.8h0.3M135.1 439.1v0.3M195.7 416.2v0.3M219.5 454.6v0.2M196.2 431.1v0.4M177.5 413.5v0.1M219.6 444.6h0.5M163.5 432.1h0.2M171.0 458.7h0.4M191.4 418.1h0.4M219.8 458.1h0.3M137.0 451.8v0.3M123.0 424.9h0.4M220.2 453.3h0.4M195.2 442.3h0.4M167.1 400.9h0.2M132.9 437.8h0.1M179.9 434.3h0.2M220.9 431.8h0.4M221.5 428.4h0.2M134.0 449.6h0.1M152.0 415.8v0.5M187.8 426.6v0.5M191.9 416.2h0.3M169.2 413.2h0.2M171.8 434.7v0.2M197.9 455.0h0.2M144.7 437.6v0.1M135.2 442.7v0.4M199.7 465.9v0.3M207.1 402.3h0.4M140.0 399.7h0.3M207.4 427.0h0.3M122.7 407.5h0.6M213.8 412.1v0.4M149.3 471.1v0.5M207.5 408.5v0.2M152.0 415.5h0.5M127.8 406.2v0.5M150.9 445.1h0.4M158.8 434.2v0.5M196.5 427.3v0.4M132.1 438.8v0.5M149.5 424.1h0.3M177.7 415.7v0.5M196.2 455.5h0.6M159.8 460.9h0.2M147.9 451.9v0.4M175.2 441.9h0.4M177.5 453.1h0.1M127.5 412.2h0.3M170.5 471.1h0.2M138.2 430.0h0.5M158.1 464.8h0.4M189.1 398.6h0.3M149.0 468.4v0.4M146.9 463.0v0.3M157.3 464.7v0.4M144.9 420.8v0.6M219.7 410.0h0.6M160.1 437.8h0.5M147.4 431.6h0.6M134.9 404.1v0.6M209.8 399.0h0.2M172.4 454.3v0.1M183.7 449.8v0.2M200.4 411.1v0.1M222.0 436.0v0.5M192.1 415.5h0.3M171.8 455.1h0.4M153.2 431.3v0.1M157.8 467.0v0.4M171.0 458.3v0.3M218.9 402.5v0.5M160.1 414.9h0.5M206.5 413.3v0.6M149.1 463.2h0.2M158.0 444.5v0.6M189.1 442.9v0.3M196.9 429.4h0.4M165.7 402.7h0.3M145.9 423.0v0.2M130.5 438.6h0.2M195.5 416.2h0.1M151.1 441.7v0.1M198.0 428.2v0.5M193.7 423.3h0.3M148.2 439.3h0.5M164.1 409.7h0.2M133.4 437.3v0.2M141.3 426.7v0.6M130.0 410.2h0.2M131.0 413.1v0.4M126.5 468.5v0.5M218.7 453.2h0.1M189.2 429.8h0.4M210.5 413.5h0.2M195.2 409.4v0.2M202.5 463.0h0.5M163.2 438.4h0.3M189.8 417.2v0.4M193.0 411.8h0.4M216.2 451.0h0.1M135.3 413.4h0.2M134.6 445.5h0.4M171.7 440.0v0.2M198.9 416.3h0.2M182.8 431.5v0.2M182.3 458.2h0.5M193.3 403.6v0.2M213.1 460.6h0.4M211.6 407.8v0.4M165.9 418.6v0.5M155.2 409.7v0.3M180.0 452.5h0.2M140.6 431.6v0.6M188.4 439.2h0.5M202.3 401.0v0.3M177.8 439.0v0.2M219.2 424.8h0.2M163.6 413.6h0.4M216.9 411.7v0.2M197.7 437.6v0.5M140.1 446.8v0.6M147.5 455.8v0.1M214.7 430.0v0.5M220.0 461.8v0.3M136.3 457.8v0.3M216.4 403.1v0.2M193.7 441.2h0.6M140.5 435.4h0.2M158.5 456.0v0.5M129.1 435.0v0.3M137.2 470.0v0.2M186.1 446.3v0.4M191.0 472.2v0.3M189.6 416.5v0.6M173.1 458.9v0.1M165.5 422.0v0.5M194.0 456.9h0.2M153.0 444.3v0.6M196.9 433.9h0.2M176.6 433.7v0.2M184.0 463.0v0.5M147.8 462.3v0.3M193.2 470.6h0.5M173.9 438.1h0.3M164.6 425.7v0.4M171.8 434.5v0.6M130.3 451.0h0.1M144.7 414.8h0.5M123.1 457.3v0.1M218.7 417.1v0.4M129.7 425.2h0.2M171.6 460.5v0.6M170.1 450.1h0.5M197.1 472.9h0.2M176.2 421.2h0.4M205.9 457.0h0.3M139.8 429.0h0.4M170.1 464.2v0.3M177.2 410.6v0.5M156.8 445.4h0.4M217.4 438.1h0.2M163.3 403.4v0.1M204.3 454.5v0.3M218.1 471.9h0.1M124.1 472.2v0.2M181.8 453.8h0.6M173.7 457.9v0.6M170.0 457.8h0.5M139.8 401.7v0.6M155.0 462.4v0.1M186.0 465.1h0.2M163.6 398.9h0.6M216.2 470.2v0.5M197.2 458.2v0.4M167.3 460.7v0.3M196.7 405.5v0.4M192.0 453.8h0.3M141.0 422.5v0.3M202.9 458.3h0.5M191.4 401.5h0.5M196.5 456.2v0.5M215.2 403.0h0.1M157.2 416.6h0.4M132.9 439.5v0.5M140.4 416.2h0.5M173.5 411.9h0.3M219.4 445.7h0.5M151.1 424.7h0.6M199.9 415.4v0.2M161.1 424.7h0.6M142.0 439.2v0.3M188.2 406.4h0.4M185.9 447.5v0.5M155.8 424.4v0.2M191.2 436.4v0.3M128.5 456.3h0.1M220.8 398.3h0.2M157.2 459.9h0.3M153.9 438.0v0.4M188.9 466.0v0.6M188.5 415.3v0.3M191.5 433.1h0.6M134.4 427.5v0.3M137.2 398.3h0.3M216.7 403.4v0.1M147.2 456.1h0.2M189.7 427.6h0.2M199.0 449.9h0.2M134.5 416.0v0.2M184.1 417.0h0.3M203.0 408.5v0.6M162.9 463.7v0.5M156.1 446.4v0.6M173.5 470.5h0.6M217.2 423.3h0.6M144.2 459.2v0.2M174.2 453.1v0.3M172.2 461.4h0.5M179.7 448.0v0.4M170.2 435.0h0.2M154.7 430.6h0.2M130.1 430.6v0.1M191.9 456.1h0.4M212.7 404.8h0.2M141.4 415.8v0.2M194.1 460.3h0.1M158.4 436.0v0.3M130.8 430.9v0.1M189.9 466.6h0.5M194.5 428.0v0.1M194.9 412.8h0.4M168.1 433.0v0.6M188.6 460.6v0.6M156.3 431.7h0.4M157.7 428.7h0.3M138.2 436.9v0.4M177.1 467.3v0.3M189.0 438.8h0.5M192.1 470.6v0.1M136.8 417.8h0.5M155.5 456.8v0.5M159.9 433.4v0.2M221.8 406.7h0.3M159.3 455.2v0.4M218.0 406.2h0.5M176.0 419.1v0.2M170.6 468.6h0.3M217.9 441.1h0.5M193.5 405.1h0.5M174.0 423.0h0.2M215.3 425.3h0.2M200.6 471.2v0.4M184.3 450.6h0.3M159.9 412.3h0.6M132.4 452.0v0.6M155.3 419.3v0.5M165.3 433.8v0.5M217.5 434.6v0.2M199.6 406.7v0.3M211.1 432.3h0.3M214.0 428.8h0.2M122.5 421.9v0.2M162.9 472.0h0.4M153.6 409.0v0.1M149.5 411.3v0.3M151.8 420.3h0.1M174.0 425.4h0.4M191.3 441.4v0.2M208.4 448.0h0.1M206.7 467.7h0.2M213.9 446.5v0.1M174.4 440.4h0.2M130.3 459.2h0.3M146.1 426.8v0.1M205.3 424.0v0.6M127.1 455.0v0.5M218.9 429.4h0.3M172.7 472.9v0.3M190.8 423.5v0.2M139.9 434.8h0.2M167.1 412.5h0.2M154.4 471.5v0.6M180.6 436.9h0.1M212.1 427.0v0.1M143.1 435.0v0.3M211.0 431.7v0.2M181.1 431.1v0.3M209.7 454.8h0.3M135.3 469.7h0.2M129.0 453.3v0.2M164.7 468.6h0.3M148.7 432.3h0.5M163.0 428.5h0.4M161.0 411.5v0.2M162.7 403.6v0.2M186.6 438.2v0.2M176.3 400.8h0.4M194.8 419.5v0.2M130.5 400.4v0.4M157.9 435.0v0.2M187.7 462.8h0.2M166.1 416.7h0.4M157.2 430.5v0.6M166.2 408.8h0.5M162.1 417.9h0.2M125.7 404.0h0.5M166.8 460.4v0.2M130.3 463.4v0.1M170.5 452.1v0.5M139.9 450.6h0.4M142.5 399.4h0.5M199.5 447.0h0.3M135.9 466.1h0.2M205.6 447.4v0.6M211.5 431.2h0.5M191.6 429.1v0.4M176.8 457.1v0.3M206.8 430.0h0.1M139.9 415.5v0.3M158.0 467.8h0.2M207.4 431.4v0.3M218.4 440.4h0.2M135.7 406.7v0.3M195.5 428.2v0.1M147.5 408.1v0.6M149.1 460.0v0.4M152.2 400.9v0.3M207.6 430.5v0.5M164.9 428.4h0.2M207.4 418.5h0.1M131.8 424.1v0.5M177.7 460.2v0.5M124.0 405.8v0.4M200.2 426.8h0.3M156.3 451.8v0.1M218.7 460.7h0.1M145.0 462.0h0.4M188.5 466.6h0.6M188.9 441.8h0.2M210.0 430.3v0.4M143.3 399.5h0.3M187.5 400.6v0.5M158.6 439.6h0.5M130.6 469.7v0.3M205.4 417.1h0.2M143.6 438.8h0.2M178.7 465.4v0.2M214.7 451.0v0.4M178.9 454.4h0.2M127.7 403.5h0.4M187.2 422.7v0.5M171.6 402.6h0.3M161.8 470.7h0.2M181.6 465.6v0.3M155.5 429.2h0.3M193.6 399.5h0.3M126.8 408.9h0.2M159.9 443.4v0.3M201.8 408.6v0.5M202.6 468.0v0.3M166.3 399.7h0.4M219.4 411.8v0.3M214.6 418.6h0.4M150.8 427.2v0.5M214.7 436.8h0.6M194.2 461.0v0.5M216.7 399.6v0.4M182.6 421.1h0.5M161.3 418.8v0.6M195.6 421.1h0.6M169.8 417.7v0.4M168.7 440.3h0.6M210.0 425.6v0.1M128.5 443.9h0.5M146.0 411.2v0.5M162.3 463.0v0.5M208.8 420.6v0.3M128.8 400.3v0.5M126.0 453.1h0.2M128.1 415.4v0.3M218.6 447.9v0.3M179.5 449.7v0.2M125.6 447.8v0.3M179.9 466.9v0.3M144.6 440.1v0.6M165.3 422.1h0.1M133.5 407.2v0.2M220.6 440.7v0.5M189.8 422.9h0.3M145.0 424.2h0.1M192.5 452.5v0.3M178.2 430.4h0.4M175.3 414.8v0.5M125.8 428.9v0.3M185.7 430.8v0.4M137.1 426.6v0.3M216.7 435.4v0.5M138.2 420.9v0.4M216.4 409.2h0.2M192.6 416.7v0.2M213.1 407.8h0.3M176.6 416.7h0.2M189.8 412.9h0.3M165.8 400.6v0.5M203.6 424.0v0.5M149.2 460.9v0.3M156.0 469.4v0.5M141.2 440.0h0.5M143.6 434.9v0.6M207.9 457.7h0.3M145.6 416.1h0.5M134.3 404.9v0.5M179.6 458.4h0.1M215.9 427.0h0.4M156.6 469.2h0.3M155.1 401.5v0.5M185.6 453.0v0.6M192.5 431.9v0.5M146.5 404.0v0.3M172.9 443.7h0.4M153.0 406.7h0.2M215.1 413.1v0.3M220.1 416.7v0.2M199.1 402.2h0.5M215.8 468.2h0.5M194.4 419.1v0.6M186.4 445.1v0.1M126.4 450.7h0.2M177.2 458.1v0.2M194.2 419.4v0.2M218.8 444.9v0.2M156.5 472.4v0.3M125.5 473.1v0.2M174.0 467.4h0.3M146.5 399.6h0.5M187.9 451.0v0.2M183.0 404.6h0.3M166.9 447.0h0.1M215.8 406.0h0.5M182.6 399.5h0.1M163.4 444.6h0.4M148.1 421.4v0.5M197.1 420.1v0.4M155.6 454.7v0.2M211.3 411.7v0.5M127.2 414.3v0.4M146.2 398.3v0.3M138.7 469.8v0.6M132.3 455.7v0.5M188.3 443.8h0.2M151.5 471.5h0.2M127.1 418.3v0.5M198.4 429.8h0.2M186.1 467.9h0.5M218.8 439.5v0.2M131.8 428.3h0.2M159.6 435.5h0.1M151.3 442.0v0.2M188.1 404.6v0.1M156.8 463.1h0.4M202.0 441.0v0.1M159.7 408.1v0.4M154.9 419.6v0.3M166.3 453.0h0.2M155.5 414.2h0.6M160.5 439.8v0.5M217.1 458.5v0.4M174.1 413.3h0.5M191.9 417.4h0.2M167.3 467.1h0.3M153.0 443.9v0.4M177.7 430.6v0.5M135.9 442.1v0.1M148.0 444.5h0.2M206.5 451.0v0.5M130.6 447.6v0.3M126.5 465.6h0.2M123.8 440.3v0.2M179.5 429.4v0.4M142.1 421.7v0.5M183.3 405.5v0.1M137.0 418.3h0.5M190.2 449.1v0.3M190.8 453.1h0.4M151.9 458.3v0.6M134.5 434.4v0.2M198.4 431.9h0.6M182.7 444.2h0.4M175.8 404.3h0.2M171.6 414.0v0.6M155.4 455.6h0.5M190.8 406.8h0.5M208.3 421.0v0.3M195.1 462.0h0.2M188.5 460.7v0.5M195.9 464.5v0.4M147.5 445.4h0.2M123.6 421.1v0.4M191.4 428.6v0.4M170.9 413.5h0.2M196.3 407.7h0.3M133.1 466.6v0.2M125.8 436.9h0.1M123.9 431.8v0.2M194.5 409.8h0.1M139.4 418.5v0.5M134.0 433.2h0.4M186.3 464.5h0.5M186.9 421.2h0.3M145.8 419.4v0.2M134.5 427.8h0.3M220.9 472.0v0.5M174.5 464.3v0.2M186.2 404.4v0.2M128.4 449.4h0.5M182.6 463.5v0.1M172.4 427.9h0.3M218.4 458.2v0.4M124.5 435.3h0.4M176.9 442.4h0.4M179.6 424.1v0.3M136.4 411.4v0.4M204.4 429.0v0.5M190.6 406.3v0.6M215.0 428.9v0.6M140.0 432.1h0.3M213.1 451.4v0.5M160.5 466.9v0.4M202.4 401.6h0.3M151.5 452.7v0.4M132.2 419.3v0.2M129.2 451.9h0.3M195.3 409.9h0.3M201.1 440.1v0.4M216.4 415.7v0.5M215.3 434.3v0.5M165.9 463.0h0.4M216.5 435.7v0.2M177.6 421.1h0.3M169.3 403.4v0.4M175.7 398.1h0.5M181.8 442.9v0.3M165.3 402.0v0.6M209.7 404.6v0.2M122.9 403.0h0.4M208.9 467.5v0.3M138.9 472.6h0.3M210.6 409.5h0.5M145.3 412.4v0.6M164.1 414.8v0.4M215.7 466.6v0.4M189.8 428.9h0.6M193.2 460.5h0.2M131.1 436.8h0.4M157.1 439.6h0.5M211.8 437.9h0.5M145.4 436.4v0.4M162.2 470.2v0.2M148.2 423.0h0.3M207.1 421.0v0.4M161.5 417.8h0.4M141.5 470.8v0.3M137.6 399.4v0.4M139.6 403.8h0.5M197.5 427.8h0.3" stroke="#4f7a4e" stroke-width="0.9" stroke-linecap="round" fill="none" opacity="0.6" filter="url(#blur05)"/></svg>
<svg x="121.8" y="397.5" width="101.5" height="77.0" viewBox="121.8 397.5 101.5 77.0" overflow="hidden"><path d="M137.2 444.4h0.9M160.0 415.2h1.0M183.1 431.3h0.3M182.5 461.3v1.0M165.6 440.1v0.8M204.7 446.2v1.1M209.4 472.6h0.3M216.5 411.0v1.0M139.6 421.8v0.3M133.9 456.5v0.4M195.0 429.3v0.3M205.5 449.2v0.3M214.7 449.3v0.4M208.8 402.6h1.1M142.6 431.6h0.6M143.0 409.6v0.3M145.1 464.6v0.5M175.9 452.4v0.9M221.5 399.5v1.2M175.2 471.2v0.6M220.3 469.5h0.4M185.6 419.4v1.0M151.3 436.8h0.2M149.5 466.1v0.3M216.6 416.0h1.0M164.6 453.8h0.4M211.4 453.5v0.5M155.5 461.9v0.1M215.2 426.8h0.1M176.6 425.8h0.8M159.6 400.8h1.1M202.6 467.5v0.9M205.5 437.3h0.8M180.3 456.7h1.1M191.9 411.9v0.2M170.2 411.3h0.9M204.9 444.2v0.8M191.3 463.1v1.0M214.8 467.2v0.9M143.9 457.8h0.7M221.1 426.3v0.9M201.7 456.8v1.1M163.8 457.7h0.6M199.3 412.4h1.0M202.3 461.7h1.1M152.1 435.1v1.0M140.4 468.9v0.1M130.4 447.6h0.1M208.8 446.7h1.0M147.3 411.9h1.1M174.0 463.4v0.2M187.9 411.0v0.3M205.8 472.0h1.0M221.9 417.0h0.8M196.9 458.8v0.8M195.7 428.2h0.6M174.5 432.2h1.1M195.2 443.3v0.3M196.8 431.3v0.6M144.3 459.9v1.0M189.5 399.3v0.2M197.5 471.3h0.4M213.4 425.0v0.6M126.3 398.7v1.1M214.5 426.8v1.1M167.1 456.4v0.5M141.6 435.1h0.2M158.7 459.8v0.6M144.6 427.4v0.9M196.0 405.0v0.1M201.0 419.9v0.5M200.6 431.5v1.0M123.9 443.5v1.1M208.4 449.1v1.0M187.3 443.5v0.3M178.8 427.6v0.9M160.1 463.2v0.7M210.2 447.5h0.8M215.1 469.2v1.0M216.5 445.5h0.9M211.1 402.9h0.6M171.8 400.0h0.7M207.8 472.4v1.1M214.5 402.6v0.2M197.7 445.8h0.7M153.8 426.7v1.1M198.6 466.0v0.9M215.7 400.7v0.8M204.8 460.1v0.4M213.6 406.5v0.9M221.3 439.5v0.5M222.0 448.9h0.4M192.9 470.3h0.2M211.0 406.7h1.1M140.7 442.2v0.3M207.7 470.9v0.6M189.3 463.6v0.7M210.9 446.2h0.3M221.9 461.0h0.9M210.6 407.4h0.7M220.8 405.8v0.6M218.0 448.8v0.4M129.1 424.4h0.6M198.7 471.4h0.9M166.7 459.7h1.1M183.0 458.5h0.6M177.3 415.5v0.8M213.5 470.3h0.6M202.1 427.0h0.6M168.5 462.6h0.9M172.7 416.8v0.8M202.6 466.7v0.4M215.7 464.2h0.6M202.3 460.2v0.7M211.9 419.0h0.2M201.6 459.9h0.7M198.5 454.4v1.1M139.6 411.5v0.9M187.5 454.0h0.1M213.5 435.7h0.6M189.1 421.6v0.7M198.3 450.1h0.9M164.5 438.0v1.0M168.9 457.1h0.3M162.4 413.7v0.3M205.4 427.4h0.7M185.9 455.4h0.6M176.2 407.6h0.6M192.0 471.6h0.9M172.8 403.8h1.0M197.8 464.9h0.4M217.6 417.1v0.2M215.9 466.6h0.9M170.8 450.0h0.1M203.0 419.7h0.9M180.7 464.2v0.4M203.3 468.6v0.4M162.4 467.8h0.5M216.8 409.2v0.5M206.6 432.9v0.2M199.4 453.9h0.6M187.4 415.2h0.4M186.8 405.5v0.9M219.5 458.5v0.2M212.9 425.4v0.6M168.6 458.0h0.4M171.0 462.7v0.9M148.0 437.0h0.2M221.9 451.2v0.2M193.3 403.5v0.7M215.5 466.9h0.3M202.7 415.1v0.9M171.8 459.0v0.8M167.2 419.5v0.5M221.4 442.4v1.2M212.8 463.4v1.1M162.3 410.9v0.7M218.2 436.7v0.3M202.2 417.3h1.1M214.3 417.7v0.2M192.0 469.9v1.0M184.6 415.1h0.5M216.8 435.2v0.5M194.4 466.5v1.0M215.3 418.8h0.6M140.6 411.3h0.8M147.3 468.1v0.8M174.0 460.5h1.1M204.7 453.3v1.0M207.2 437.0h0.2M218.5 470.0h0.3M206.5 399.7h1.1M209.9 466.1h0.4M192.2 427.4h0.3M180.0 452.8v0.4M154.7 463.8v0.2M195.8 469.4h1.1M176.1 439.2h1.1M207.8 447.4h0.2M178.6 452.7h0.7M209.9 463.3v1.1M152.3 449.6h0.7M132.8 450.8v0.4M123.8 436.6h0.6M196.9 407.4h0.7M219.4 412.7v0.2M209.8 410.2h1.1M220.7 450.2h0.5M208.1 450.0h0.2M219.9 406.6v0.5M138.9 435.8v0.7M208.5 447.5v0.6M204.5 407.1v1.1M194.1 449.8h0.5M220.2 458.6v0.3M196.9 407.3v0.8M214.7 441.6v0.7M176.3 412.7v0.6M164.5 407.7h1.1M174.6 472.4h0.5M165.9 443.4h0.7M201.8 421.1h1.1M220.1 453.6h0.9M189.1 398.2h1.0M174.6 424.1v0.9M148.5 399.1h0.3M175.0 454.3h0.6M189.1 437.3v0.9M166.6 407.5v0.5M200.7 459.7v1.1M214.2 437.6h0.9M203.5 401.5h0.4M199.5 400.1v0.3M122.4 460.7h0.6M145.4 432.5v1.1M163.4 457.1v0.5M169.1 444.8v0.4M149.1 466.9v0.4M186.1 404.1h0.3M181.1 440.4v0.8M124.5 420.5h0.2M151.1 403.8v1.0M218.0 471.9h0.3M220.0 466.5v0.2M185.5 434.9v0.6M135.6 431.4h0.8M134.1 457.2v0.8M143.2 448.9v0.6M127.9 460.5v0.7M158.9 449.6h0.5M164.2 431.2h0.9M182.8 418.9h0.8M200.5 443.9h1.1M210.8 431.5v0.9M196.3 427.9v1.2M204.7 473.2v1.1M188.8 445.2h0.4M146.0 426.2h0.6M162.1 463.0h0.1M202.0 445.0h1.2M210.2 398.4v0.5M187.5 408.2h0.5M167.7 451.5h1.2M154.3 445.6v1.2M217.4 408.1v0.4M203.7 458.0v1.1M153.1 435.2v0.9M210.1 448.1v0.6M215.2 471.7v0.4M198.9 416.8h0.2M195.1 468.4v0.5M207.3 424.8v0.7M218.2 410.9v0.1M187.6 417.2v1.0M213.4 464.8h0.5M218.1 435.5v0.6M195.3 458.4h0.7M203.0 415.1h0.4M188.4 409.9v0.8M186.4 446.6v1.2M131.1 469.9v1.2M190.3 462.9h0.9M218.5 463.0h0.8M209.9 429.4v0.6M194.7 470.2v0.4M179.5 455.7v1.1M172.4 416.3h0.5M137.9 453.4h0.4M212.6 454.1v0.4M206.7 462.4h0.5M221.9 440.1v0.5M195.2 429.7h0.3M140.4 428.6v0.6M169.6 451.0h0.2M196.8 425.7h0.6M161.8 449.6h0.5M191.2 408.5v0.5M147.9 449.8v1.2M157.5 432.3v1.0M183.0 448.6v0.6M173.9 465.6h0.4M189.5 405.2h0.4M158.2 411.9h0.1M214.8 436.8h0.3M200.8 422.9v0.3M162.5 432.1v0.4M168.6 471.6h1.1M123.6 444.3v0.4M173.8 429.3v0.6M172.1 403.2v0.3M177.3 470.5v1.2M220.2 450.7h0.3M221.4 446.5v1.1M212.9 452.9v1.1M217.9 463.4h1.1M162.1 419.4h1.0M157.7 408.3h1.0M221.1 445.2v1.0M171.6 446.7v0.9M155.8 418.5h0.8M182.6 458.0v0.3M163.1 458.3h0.2M218.7 441.9v1.0M163.1 440.9v0.6M183.2 408.5h0.3M169.1 436.4v0.2M179.3 445.5h0.8M159.4 450.7v0.3M159.2 471.9v0.2M194.8 464.0v0.7M203.8 442.5h1.1M163.4 445.8h0.4M204.7 466.5v0.5M201.8 435.4h0.8M208.2 458.0v1.1M200.6 418.7h1.1M195.2 435.1v1.0M177.3 422.1h0.7M211.5 421.3h0.4M199.4 439.9v0.6M127.5 425.9v0.3M220.9 413.0v0.4M215.3 400.0v0.9M208.9 442.4v0.2M150.2 407.2v0.4M142.9 428.2v1.2M140.6 451.1v0.5M164.5 417.7v1.0M180.2 461.1h0.6M188.9 423.5v0.3M160.5 443.1h0.5M165.4 456.5h0.7M168.3 420.0v0.6M177.5 409.9h0.9M195.0 446.6v0.3M216.2 464.3h0.5M170.8 452.9h1.1M220.8 468.4h1.0M217.7 421.3v1.1M198.5 440.8h1.0M162.9 408.8h0.8M132.6 442.9v0.4M149.0 434.0v1.2M127.7 455.4v0.8M191.1 401.7v0.2M182.8 444.5h0.9M172.4 467.4v0.5M208.6 463.4v0.2M195.0 449.7v1.1M129.5 472.8h0.3M176.9 469.9h1.1M130.7 455.4h1.0M202.3 460.8v1.1M189.5 401.1v0.6M208.5 433.6v0.3M124.2 420.2h0.3M207.4 417.8h0.3M146.8 399.2v0.9M211.8 421.7h0.9M207.4 421.9v1.0M143.4 447.0h0.1M202.5 429.4h0.2M190.0 451.1h0.3M137.5 398.6h1.1M180.9 467.9v0.1M220.5 456.3h0.2M220.3 406.9h0.9M216.2 444.6h0.9M170.0 401.9h0.1M204.8 408.9v0.7M213.6 453.0h1.0M174.5 434.9h0.6M132.7 435.6h0.8M155.0 415.2h0.3M187.5 463.7h0.8M173.3 439.6h1.0M147.0 412.3v0.6M217.6 453.3v0.9M163.6 457.6h1.1M169.0 437.1v0.2M163.6 468.1v0.6M144.8 451.4h0.8M148.8 453.0v0.9M175.2 448.3h0.5M216.0 465.2h0.3M199.3 429.6h0.7M212.2 426.2v0.2M184.4 432.0v0.6M191.3 454.9v0.2M166.8 421.1h1.0M153.4 462.6v1.2M218.1 423.7h0.2M199.9 430.2v0.5M211.3 418.6v0.7M205.6 430.1v0.6M158.9 401.4h0.9M196.7 466.2h1.0M162.8 442.3h0.6M189.9 457.3v0.3M140.8 439.9h0.1M209.0 463.9h1.0M203.8 465.8v0.3M176.4 434.3h1.2M215.0 425.9v1.0M164.4 463.2h0.3M214.2 409.8v1.1M148.4 421.9v0.6M215.3 453.9h0.2M159.2 418.2h0.5M188.7 407.3h1.2M136.5 414.8v1.0M204.9 446.2h0.2M154.5 405.3h0.4M205.5 463.3h0.8M169.0 430.0h0.9M185.2 438.8v0.7M218.8 450.8v0.1M215.9 423.1v0.2M156.0 447.2v0.6M201.6 448.5v0.1M131.7 454.2h0.2M197.8 463.5h0.4M130.1 434.4h0.9M219.9 463.8v0.2M136.1 419.7v1.1M207.9 448.2v1.1M220.6 447.1v0.6M193.6 429.7v0.3M142.2 458.5h0.4M200.1 464.0v1.1M213.3 467.2h0.7M138.2 434.3v0.3M163.8 468.2h0.6M215.9 402.1v1.2M191.7 410.0h0.8M142.8 422.9v1.0M160.0 455.3v0.8M149.6 430.9h1.2M152.9 455.7v0.8M139.7 471.9v0.9M129.8 410.2v0.9M207.0 466.2h0.2M160.1 410.8h0.5M164.6 468.3v0.8M167.8 447.4v0.3M186.5 427.8h0.1M206.0 445.8v0.7M220.1 443.0v0.8M201.4 423.5h0.2M199.7 469.4v0.7M196.1 431.1v0.5M200.7 471.5v0.4M177.5 405.1h0.4M129.2 408.1h0.8M208.6 419.9h0.2M221.9 461.7h0.6M193.3 448.6h0.4M186.9 419.1h0.7M208.1 453.2h0.1M158.1 472.5h0.2M174.4 457.6v0.4M196.4 454.1v0.5M153.9 407.9v0.8M174.7 465.0h1.2M146.2 460.9v0.6M173.6 451.0h0.6M193.0 447.8h1.0M184.2 466.1h0.7M192.1 445.4v0.4M136.0 472.7v1.1M197.3 436.1h0.1M199.3 412.7h0.6M221.5 467.1v0.7M209.8 465.9v0.3M220.9 426.5h0.3M200.5 422.6v0.7M174.8 409.9h0.3M151.3 404.2h1.1M200.8 465.0v0.5M194.7 432.5h0.9M139.1 436.1v0.9M192.7 421.2v0.5M141.5 422.2h0.3M141.6 449.0h0.5M221.5 464.8h0.7M151.1 400.8h0.8M207.6 412.4v0.4M197.6 460.4h1.0M183.2 433.8h1.1M183.2 451.8v0.5M196.6 450.8h1.0M206.3 435.8h0.9M136.0 442.4v0.2M164.9 422.7v1.0M202.9 469.5v0.7M189.9 432.1v0.5M125.6 411.2h0.5M186.5 440.5h0.5M207.7 463.1h0.4M184.6 417.7h0.8M187.5 442.3h0.7M124.2 464.9h1.0M171.0 472.1v0.4M168.3 416.3v0.2M193.1 449.4h1.0M196.5 431.2h0.7M193.2 450.9h0.2M174.4 451.0v0.5M168.9 443.0h0.4M157.7 449.3v1.2M216.4 400.2v0.8M220.2 417.4h0.3M157.8 407.5v0.7M124.4 427.5v0.3M190.7 463.3h0.8M143.6 401.9h0.4M196.7 414.1h0.7M200.6 445.6h0.2M221.8 443.3h0.7M171.3 436.0h0.3M169.6 453.9h0.2M193.5 467.1h0.5M221.3 423.5v0.9M191.4 454.6h0.4M199.6 433.9v0.4M221.0 460.3h0.1M192.3 463.4h0.8M193.1 448.5v0.5M201.7 437.3v0.7M171.5 452.6h0.1M173.5 434.4v0.6M139.2 471.8v0.6M185.6 410.1v0.1M200.2 448.1v0.7M157.5 446.9v0.2M176.8 465.2h0.4M197.0 458.6v0.3M164.5 422.8v1.1M159.4 470.2h0.9M197.9 416.3v0.6M218.0 463.8h0.9M164.6 443.2v0.8M216.8 425.9v0.3M205.0 457.1h0.6M217.7 467.5v0.4M195.4 412.3h0.2M192.2 468.8v0.2M151.9 454.0v0.9M154.0 438.6h1.2M180.4 418.8v1.1M142.4 410.4v0.2M135.3 444.0h1.0M173.0 461.7h0.2M202.7 439.3h1.0M158.2 464.5h1.1M177.4 437.5h0.6M204.8 413.0h0.1M140.8 409.5h0.4M190.4 458.3h0.7M209.7 456.1h0.8" stroke="#50b448" stroke-width="1.2" stroke-linecap="round" fill="none" opacity="0.85" filter="url(#blur05)"/></svg>
<svg x="121.8" y="397.5" width="101.5" height="77.0" viewBox="121.8 397.5 101.5 77.0" overflow="hidden"><path d="M220.0 432.4h1.3M187.6 432.8v1.2M124.9 415.0v0.3M179.5 460.3h0.7M216.7 444.6v0.5M212.8 455.1v1.5M175.1 451.4h0.9M188.0 459.8h1.2M220.8 440.5v1.3M160.4 452.9h1.6M209.4 439.0h1.2M215.6 409.7h1.2M153.3 467.3h0.7M188.1 434.7h1.2M206.6 444.8v1.3M162.3 442.8v1.5M220.0 440.6h1.4M176.5 444.3v0.3M208.1 457.0v1.5M199.9 420.5v1.7M168.3 455.6h0.6M188.5 422.8v0.2M196.6 422.2v1.0M188.0 468.6h0.6M194.2 450.0h1.8M206.0 473.1v0.6M143.7 420.1v1.6M154.9 404.4v0.8M187.4 453.9h0.5M193.3 415.7v0.9M179.4 422.1h1.3M154.2 416.4v0.7M220.9 462.9v1.7M191.8 462.6h0.5M135.0 434.8h0.9M195.0 398.5v1.5M202.9 470.6v0.1M180.0 429.2v1.3M171.2 470.2h1.1M145.7 465.2v1.3M209.1 466.4v1.5M199.5 449.8v1.7M162.0 453.5v0.1M183.0 467.0h1.6M192.1 459.8v0.7M203.6 445.2h1.5M128.1 429.9v0.2M137.1 468.2v0.3M218.7 433.0v0.9M162.3 459.4v1.6M132.9 439.3v1.0M185.2 429.9v0.3M171.9 445.9v0.3M188.8 446.4h1.0M138.2 451.1h0.7M202.4 428.7v0.9M136.8 464.2v0.6M184.5 441.1h1.4M179.6 421.2h0.8M198.0 426.3h0.9M209.7 452.5v1.2M126.8 408.6v0.8M219.1 459.7v1.3M178.9 432.1h0.8M162.3 418.0v1.2M186.3 423.7v1.6M135.6 402.7v1.4M190.8 398.7h0.4M192.1 467.0h1.3M210.2 472.5v1.1M182.8 457.6h0.5M135.9 419.4h0.1M218.6 472.0h1.7M122.4 436.4h0.3M193.5 449.3h1.3M205.5 445.1v0.5M174.3 460.9h0.6M218.6 459.1v0.8M210.7 438.9v1.0M215.1 469.8h1.5M128.1 400.9v1.0M148.2 415.2h1.3M215.8 416.2h1.1M136.0 438.1h1.5M194.0 417.4v1.6M183.9 445.5h0.7M221.5 451.1v1.6M145.8 418.9v0.7M206.8 440.9h1.8M192.5 449.5h0.3M211.0 454.3v1.0M198.9 448.3h1.0M214.2 422.1h0.2M152.4 416.5v0.6M132.5 410.7v1.3M215.8 470.1h0.4M162.1 456.0v1.4M127.4 439.5v1.4M171.5 419.3v0.4M128.7 450.9v0.3M187.5 435.6v1.1M202.5 442.7h0.8M202.6 442.7h1.2M186.0 437.5v0.8M153.0 438.9v1.1M145.7 459.8v0.6M197.4 435.1v1.0M136.7 404.4h1.0M156.9 416.0v0.9M202.1 441.2v1.6M185.8 464.3v1.0M215.7 422.8v0.7M210.2 409.4h1.4M131.9 430.1v1.4M153.3 439.9h1.0M206.6 471.8v1.4M208.7 412.4v0.5M130.0 419.7h0.9M144.3 404.3h1.7M214.1 420.8v1.2M210.0 449.3v0.4M202.2 401.0v0.6M181.1 447.7h0.7M195.4 415.7v0.6M209.5 459.3v0.9M189.0 422.3v0.4M199.8 461.0v1.0M161.1 444.6v1.2M204.6 427.5h1.5M143.7 425.9h1.6M216.8 434.6v1.0M221.2 447.5v0.5M207.9 457.4v0.6M148.2 402.5h0.8M127.1 453.2h0.5M219.2 419.1h0.9M205.3 471.9v1.6M205.7 453.7h1.3M173.6 400.1v1.3M174.3 438.7v1.0M183.8 467.3v1.7M186.0 445.3v1.8M207.7 448.5h0.2M197.4 472.6h0.5M172.7 412.6v1.4M204.4 440.9v1.3M200.6 458.9h1.5M153.1 463.7v0.6M184.3 468.3v0.3M204.9 426.3v0.6M173.3 423.3h1.7M214.3 432.7h0.2M212.1 415.2h0.5M189.5 445.1h0.9M129.5 412.7v0.5M143.7 414.8h0.2M218.0 448.8h1.0M179.1 451.2v1.8M195.9 430.9v0.7M155.4 459.8h1.8M182.8 442.2h0.7M123.7 426.2v1.7M170.6 416.4v1.5M127.7 400.7v0.2M220.1 439.0h0.7M192.5 461.2v1.7M202.4 470.0h1.8M211.8 429.3v1.2M145.8 430.7h1.7M212.0 417.0v0.7M220.2 452.0v0.5M156.4 459.6v1.1M206.0 434.8v0.7M183.6 458.9v1.4M219.3 433.7h1.6M126.5 452.7h0.5M134.3 411.9v1.6M151.3 441.7v1.0M168.0 424.5h0.4M142.9 417.9v0.9M174.4 404.6v1.7M199.0 417.1h0.4M138.2 422.8v0.7M183.8 470.5h1.4M179.1 428.4v1.1M179.8 468.8v1.7M222.0 403.2v0.7M188.3 407.3v1.5M156.7 437.5v1.2M214.6 459.9v0.2M146.9 409.3v0.2M178.3 456.2h1.0M201.6 441.1h0.3M189.5 446.4h0.5M187.9 429.3h0.7M123.7 422.8v1.6M123.9 469.1h0.4M144.0 467.9v1.2M204.8 414.9v1.5M164.9 446.8h0.9M221.5 471.1h1.4M208.4 411.4v1.0M169.0 426.1v0.5M183.4 430.5v0.6M197.7 408.2h1.6M131.0 456.0h1.7M183.0 460.3v0.4M157.4 444.0v0.6M221.2 407.1h0.4M165.4 432.2v0.7M148.6 463.4h1.5M144.2 440.4h1.6M184.6 426.3v1.0M186.0 446.2v0.4M177.8 415.2v0.6M195.3 459.4h0.5M197.0 462.8h1.7M199.0 411.9v0.9M212.1 400.7v0.9M182.5 455.6v1.6M198.1 426.9h0.6M198.0 405.4v0.7M123.8 430.5h0.7M149.7 411.3v1.6M180.5 446.1v1.0M216.4 459.1h0.9M218.4 431.7v0.7M202.1 460.3h0.3M206.0 448.9h1.3M194.4 452.5v0.8" stroke="#86dc74" stroke-width="1.5" stroke-linecap="round" fill="none" opacity="0.85" filter="url(#blur05)"/></svg>
<svg x="121.8" y="397.5" width="101.5" height="77.0" viewBox="121.8 397.5 101.5 77.0" overflow="hidden"><path d="M218.1 463.7v0.5M213.4 406.0v0.2M208.3 401.0h1.6M205.0 417.1v1.9M201.1 434.0h0.5M206.1 437.1h1.5M210.2 407.5h0.6M203.5 444.1h1.2M185.9 461.6h1.4M222.0 427.4h0.6M202.0 404.4h0.2M200.2 467.8v1.8M210.3 400.9h0.4M202.1 434.9h1.6M172.3 459.8h1.5M211.6 414.7h0.6M204.9 454.1h0.4M195.7 458.7h0.5M208.7 449.1v0.5M198.6 444.4h0.3M187.2 459.8h0.5M219.2 466.3v1.7M187.8 459.5h0.7M216.6 418.9v1.9M210.0 425.2h0.6M191.9 466.1h1.3M177.3 452.7h1.2M218.6 446.0h1.0M219.0 457.1h1.7M214.8 413.0h0.5M180.0 461.9v0.5M192.9 427.4h1.4M218.0 450.8v0.5M201.7 424.5h0.2M184.8 467.4v1.9M206.5 466.8v0.5M220.3 461.9h1.2M219.3 439.4h0.4M217.7 470.6v1.7M214.0 403.1h1.0M170.8 448.4h1.0M207.1 440.6h0.8M203.4 424.9h0.4M218.8 408.3h1.6M212.4 448.9h1.1M181.6 438.9v1.9M210.1 457.4h0.9M213.5 405.8v1.1M198.9 470.1v1.8M188.5 456.6v1.7M182.7 467.7h0.4M166.8 473.2v0.7M200.8 427.6v0.6M218.8 430.6h1.1M220.2 412.7v0.3M217.2 403.0h0.8M215.2 429.9v1.0M193.9 407.1h0.8M196.6 467.0h1.0M208.6 434.5h1.6M197.9 413.3v1.0M217.6 468.3v1.7M200.5 455.6v0.9M202.5 451.4h1.1M219.0 442.2h0.3M194.3 454.1h0.5M219.6 469.0h1.8M220.6 410.8v1.4M214.5 445.4h0.7M217.4 426.8h0.5" stroke="#6fd060" stroke-width="2.2" stroke-linecap="round" fill="none" opacity="0.8" filter="url(#blur05)"/></svg>
<line x1="198.0" y1="471.7" x2="222.0" y2="471.7" stroke="#f4f4f4" stroke-width="1.3"/>
<text font-size="8.7" text-anchor="middle" textLength="45.8" lengthAdjust="spacingAndGlyphs" transform="translate(66.0 485.6)">CONV-R WT</text>
<text font-size="8.7" text-anchor="middle" textLength="25.0" lengthAdjust="spacingAndGlyphs" transform="translate(171.7 485.6)">GF WT</text>
<rect x="271.8" y="407.5" width="20.6" height="60.7" fill="#2f4c7e"/>
<line x1="282.1" y1="404.3" x2="282.1" y2="408.0" stroke="#111" stroke-width="1.1"/>
<line x1="277.1" y1="404.3" x2="287.1" y2="404.3" stroke="#111" stroke-width="1.1"/>
<rect x="301.4" y="443.0" width="20.6" height="25.2" fill="#a60329"/>
<line x1="311.7" y1="439.9" x2="311.7" y2="443.5" stroke="#111" stroke-width="1.1"/>
<line x1="306.9" y1="439.9" x2="316.5" y2="439.9" stroke="#111" stroke-width="1.1"/>
<line x1="267.0" y1="395.2" x2="267.0" y2="468.8" stroke="#111" stroke-width="1.3"/>
<line x1="266.4" y1="468.2" x2="325.9" y2="468.2" stroke="#111" stroke-width="1.3"/>
<line x1="263.6" y1="468.2" x2="267.0" y2="468.2" stroke="#111" stroke-width="1.1"/>
<text font-size="8.7" text-anchor="end" transform="translate(261.1 470.9) scale(0.925 1)">0</text>
<line x1="263.6" y1="450.6" x2="267.0" y2="450.6" stroke="#111" stroke-width="1.1"/>
<text font-size="8.7" text-anchor="end" transform="translate(261.1 453.3) scale(0.925 1)">20</text>
<line x1="263.6" y1="433.1" x2="267.0" y2="433.1" stroke="#111" stroke-width="1.1"/>
<text font-size="8.7" text-anchor="end" transform="translate(261.1 435.8) scale(0.925 1)">40</text>
<line x1="263.6" y1="415.5" x2="267.0" y2="415.5" stroke="#111" stroke-width="1.1"/>
<text font-size="8.7" text-anchor="end" transform="translate(261.1 418.2) scale(0.925 1)">60</text>
<line x1="263.6" y1="398.0" x2="267.0" y2="398.0" stroke="#111" stroke-width="1.1"/>
<text font-size="8.7" text-anchor="end" transform="translate(261.1 400.7) scale(0.925 1)">80</text>
<line x1="282.0" y1="468.2" x2="282.0" y2="471.6" stroke="#111" stroke-width="1.1"/>
<line x1="311.5" y1="468.2" x2="311.5" y2="471.6" stroke="#111" stroke-width="1.1"/>
<text font-size="8.5" text-anchor="middle" font-weight="bold" transform="translate(311.5 440.5) scale(0.925 1)">*</text>
<text font-size="8.7" text-anchor="middle" textLength="31.6" lengthAdjust="spacingAndGlyphs" transform="translate(282.0 481.1)">CONV-R</text>
<text font-size="8.7" text-anchor="middle" transform="translate(282.0 491.3) scale(0.925 1)">WT</text>
<text font-size="8.7" text-anchor="middle" transform="translate(311.6 481.1) scale(0.925 1)">GF</text>
<text font-size="8.7" text-anchor="middle" transform="translate(311.6 491.3) scale(0.925 1)">WT</text>
<text font-size="9.7" textLength="67.8" lengthAdjust="spacingAndGlyphs" transform="translate(233.9 465.8) rotate(-90)">Adhering platelets</text>
<text font-size="9.7" textLength="50.8" lengthAdjust="spacingAndGlyphs" transform="translate(245.5 457.3) rotate(-90)">(% coverage)</text>
<text font-size="8.6" text-anchor="middle" font-weight="bold" textLength="90.0" lengthAdjust="spacingAndGlyphs" transform="translate(434.1 385.8)">Laminin coated slides</text>
<rect x="400.1" y="415.5" width="12.7" height="52.6" fill="#2f4c7e"/>
<line x1="406.5" y1="411.1" x2="406.5" y2="416.0" stroke="#111" stroke-width="1.1"/>
<line x1="404.0" y1="411.1" x2="409.0" y2="411.1" stroke="#111" stroke-width="1.1"/>
<rect x="418.0" y="422.7" width="13.0" height="45.4" fill="#2f4c7e"/>
<line x1="424.5" y1="419.8" x2="424.5" y2="423.2" stroke="#111" stroke-width="1.1"/>
<line x1="422.0" y1="419.8" x2="427.0" y2="419.8" stroke="#111" stroke-width="1.1"/>
<rect x="436.1" y="421.2" width="13.1" height="46.9" fill="#a60329"/>
<line x1="442.6" y1="418.4" x2="442.6" y2="421.7" stroke="#111" stroke-width="1.1"/>
<line x1="440.1" y1="418.4" x2="445.1" y2="418.4" stroke="#111" stroke-width="1.1"/>
<rect x="454.6" y="456.7" width="13.3" height="11.4" fill="#a60329"/>
<line x1="461.2" y1="454.4" x2="461.2" y2="457.2" stroke="#111" stroke-width="1.1"/>
<line x1="458.8" y1="454.4" x2="463.8" y2="454.4" stroke="#111" stroke-width="1.1"/>
<line x1="396.9" y1="391.8" x2="396.9" y2="468.8" stroke="#111" stroke-width="1.3"/>
<line x1="396.2" y1="468.1" x2="472.9" y2="468.1" stroke="#111" stroke-width="1.3"/>
<line x1="393.5" y1="468.1" x2="396.9" y2="468.1" stroke="#111" stroke-width="1.1"/>
<text font-size="8.7" text-anchor="end" transform="translate(391.0 470.8) scale(0.925 1)">0</text>
<line x1="393.5" y1="449.7" x2="396.9" y2="449.7" stroke="#111" stroke-width="1.1"/>
<text font-size="8.7" text-anchor="end" transform="translate(391.0 452.4) scale(0.925 1)">20</text>
<line x1="393.5" y1="431.3" x2="396.9" y2="431.3" stroke="#111" stroke-width="1.1"/>
<text font-size="8.7" text-anchor="end" transform="translate(391.0 434.0) scale(0.925 1)">40</text>
<line x1="393.5" y1="412.8" x2="396.9" y2="412.8" stroke="#111" stroke-width="1.1"/>
<text font-size="8.7" text-anchor="end" transform="translate(391.0 415.5) scale(0.925 1)">60</text>
<line x1="393.5" y1="394.4" x2="396.9" y2="394.4" stroke="#111" stroke-width="1.1"/>
<text font-size="8.7" text-anchor="end" transform="translate(391.0 397.1) scale(0.925 1)">80</text>
<line x1="406.4" y1="468.1" x2="406.4" y2="471.5" stroke="#111" stroke-width="1.1"/>
<line x1="424.6" y1="468.1" x2="424.6" y2="471.5" stroke="#111" stroke-width="1.1"/>
<line x1="443.0" y1="468.1" x2="443.0" y2="471.5" stroke="#111" stroke-width="1.1"/>
<line x1="461.3" y1="468.1" x2="461.3" y2="471.5" stroke="#111" stroke-width="1.1"/>
<text font-size="9.7" textLength="67.8" lengthAdjust="spacingAndGlyphs" transform="translate(364.0 465.9) rotate(-90)">Adhering platelets</text>
<text font-size="9.7" textLength="50.8" lengthAdjust="spacingAndGlyphs" transform="translate(375.4 457.4) rotate(-90)">(% coverage)</text>
<path d="M405.7 408.4V403.2H461.7V413.5" fill="none" stroke="#111" stroke-width="1.0"/>
<path d="M423.3 411V406.3H461.7" fill="none" stroke="#111" stroke-width="1.0"/>
<path d="M442 413.5V409.2H461.7" fill="none" stroke="#111" stroke-width="1.0"/>
<text font-size="8.5" text-anchor="middle" font-weight="bold" transform="translate(434.2 403.8) scale(0.925 1)">*</text>
<text font-size="8.7" text-anchor="end" textLength="41.8" lengthAdjust="spacingAndGlyphs" transform="translate(392.0 482.3)">WT Plasma</text>
<text font-size="8.7" text-anchor="end" transform="translate(392.0 496.9) scale(0.925 1)"><tspan font-style="italic">Vwf</tspan><tspan dx="1.8" dy="-3.2" font-size="5.6">-/-</tspan><tspan dx="1.2" dy="3.2"> Plasma</tspan></text>
<text font-size="7.9" text-anchor="middle" transform="translate(406.4 482.0)">+</text>
<text font-size="7.9" text-anchor="middle" transform="translate(406.4 496.6)">-</text>
<text font-size="7.9" text-anchor="middle" transform="translate(424.6 482.0)">-</text>
<text font-size="7.9" text-anchor="middle" transform="translate(424.6 496.6)">+</text>
<text font-size="7.9" text-anchor="middle" transform="translate(443.0 482.0)">+</text>
<text font-size="7.9" text-anchor="middle" transform="translate(443.0 496.6)">-</text>
<text font-size="7.9" text-anchor="middle" transform="translate(461.3 482.0)">-</text>
<text font-size="7.9" text-anchor="middle" transform="translate(461.3 496.6)">+</text>
<line x1="400.1" y1="501.2" x2="431.8" y2="501.2" stroke="#111" stroke-width="1.1"/>
<line x1="439.0" y1="501.2" x2="471.4" y2="501.2" stroke="#111" stroke-width="1.1"/>
<text font-size="8.7" text-anchor="middle" textLength="31.8" lengthAdjust="spacingAndGlyphs" transform="translate(416.3 512.0)">CONV-R</text>
<text font-size="8.7" text-anchor="middle" transform="translate(416.3 522.2) scale(0.925 1)">WT</text>
<text font-size="8.7" text-anchor="middle" transform="translate(455.4 512.0) scale(0.925 1)">GF</text>
<text font-size="8.7" text-anchor="middle" transform="translate(455.4 522.2) scale(0.925 1)">WT</text>
<text font-size="8.6" text-anchor="middle" font-weight="bold" textLength="90.5" lengthAdjust="spacingAndGlyphs" transform="translate(172.3 545.8)">Laminin coated slides</text>
<rect x="15.5" y="551.6" width="102.0" height="76.0" fill="#12040a"/>
<svg x="15.5" y="551.6" width="102.0" height="76.0" viewBox="15.5 551.6 102.0 76.0" overflow="hidden"><path d="M22.8 576.4v0.1M48.8 604.1v0.7M61.3 616.4h0.6M108.7 625.3h0.2M37.7 603.8v0.3M26.9 593.6v1.0M82.8 554.5h0.6M92.3 605.6v0.6M64.7 608.7v0.4M105.6 617.6v0.3M60.3 555.2v0.9M17.4 582.9h0.9M66.8 570.9v0.6M26.8 572.1v0.9M75.0 609.4v0.5M73.3 591.1v0.1M67.1 619.7h0.3M111.8 555.0v0.8M61.5 554.6v0.8M74.8 590.4v0.4M106.7 564.9v0.2M98.0 560.6v0.4M59.6 553.7v0.1M36.7 589.8v1.0M76.1 563.6v0.3M39.9 625.6h0.7M40.1 623.3h0.1M76.4 592.6h0.4M46.0 610.5h0.6M95.8 603.6h0.1M35.6 573.5v0.4M63.9 621.3h0.1M86.9 580.1h0.2M109.0 610.6h0.3M43.1 588.0h0.8M45.6 554.2h0.3M79.2 615.8v0.6M19.5 589.9v0.9M34.7 560.2v0.9M59.6 575.5v0.6M101.8 605.5h0.7M56.1 556.7h0.4M26.9 592.6h0.5M31.3 594.6h0.8M16.6 602.3v0.4M36.5 624.5h0.3M17.4 601.9v0.8M110.7 573.9v1.0M107.7 575.8v0.9M54.7 605.2v0.9M44.3 560.9h0.6M77.4 569.6v0.7M62.1 558.2v0.3M18.0 622.9h0.8M53.1 601.0h0.6M57.8 615.8h0.6M100.1 564.0v0.2M86.3 603.6h0.2M31.0 599.7h0.9M65.9 590.6h0.9M48.3 607.7v0.8M107.9 604.8v0.2M75.4 616.6h0.6M43.3 615.5v1.0M30.2 598.4h0.8M80.9 554.0v1.0M54.8 595.7h0.9M77.2 607.7v0.6M103.8 570.6h0.1M103.0 604.3h0.4M23.1 581.3v0.3M45.8 584.2h0.2M93.7 568.0h0.4M34.5 604.4h0.7M112.4 605.2h0.7M73.8 558.4v0.4M42.8 563.1v0.4M66.1 595.2h0.6M113.7 609.2v0.3M99.6 616.4h0.7M25.6 563.8h0.7M34.0 624.7v0.3M58.5 569.2h0.4M97.4 589.4v0.8M55.0 585.7v0.9M28.7 562.7h0.8M103.2 619.7v0.9M33.6 569.1v0.2M80.9 562.8v0.3M43.4 574.1v0.6M110.1 608.6h0.5M29.5 582.2h0.4M107.4 566.3h0.4M49.0 588.2v0.4M81.7 582.8h0.6M102.2 611.9v0.7M61.8 558.0v0.2M86.0 573.2v0.7M83.9 608.2v0.6M53.0 574.3v1.0M20.8 611.4v0.4M19.2 591.5v0.8M72.3 557.8h0.8M63.2 591.5h0.3M16.6 571.0h0.1M33.6 608.1h0.4M28.3 577.8v0.1M41.8 556.7h0.8M28.0 619.3h0.3M63.2 626.2v1.0M114.8 595.4h0.3M26.9 615.2v0.9M42.9 626.4v0.9M78.9 595.6h0.4M100.8 565.3h0.6M21.4 553.9h0.7M64.7 561.3v1.0M43.7 603.2h0.7M81.8 587.6h0.7M85.7 573.5h0.8M76.9 602.1h0.4M18.8 578.4v0.8M77.6 626.0h0.8M102.7 580.2v0.4M59.0 603.2h0.3M40.9 558.0v0.7M60.1 615.6h0.7M87.9 609.8v0.7M31.0 620.4v0.4M55.5 554.5h1.0M62.8 579.3v0.6M29.0 553.4h0.3M45.3 569.6h0.1M95.7 620.5v0.6M115.1 577.0v0.4M73.4 556.3h0.4M97.1 583.7v0.3M85.8 609.3v0.4M86.6 582.7h0.2M24.7 605.8v0.4M103.1 578.5v0.6M37.7 565.4v0.9M78.4 575.0v0.4M32.3 591.3h0.3M105.7 602.6v0.3M35.9 556.3h0.2M17.0 561.2h0.7M108.1 595.3h0.6M59.7 554.0h0.2M30.6 584.0v0.9M23.1 575.2v0.5M21.7 620.1v0.7M77.6 572.2v0.8M61.0 591.5h1.0M88.4 572.2v0.7M80.2 599.3v0.1M109.4 558.4v0.3M105.8 568.4h0.8M80.6 563.0v0.4M20.9 610.0h0.7M52.5 572.1v0.6M56.7 619.0v0.8M27.2 595.3h0.7M26.2 616.0h0.3M53.8 604.6v0.9M42.5 591.3h0.4M68.6 583.3h0.2M89.7 615.4v0.5M25.0 608.5h0.6M50.1 557.8v0.8M30.2 613.6v0.7M24.2 585.4h0.4M115.3 591.0h0.4M85.8 594.2v0.9M46.3 569.1h0.5M105.3 560.9h0.6M60.3 586.8v1.0M78.7 585.9h0.9M32.4 562.5h0.9M99.0 566.4h0.6M19.2 555.3v1.0M23.4 580.9h0.6M95.1 622.7v0.4M113.5 570.6h1.0M58.0 606.3v0.4M44.3 573.6v0.4M51.0 599.4v1.0M26.2 609.6h0.6M23.1 572.1v0.2M87.0 601.1h0.5M37.2 620.1v0.3M104.6 595.0h0.6M53.1 564.2h0.2M52.5 561.3v0.6M60.9 553.9h0.4M108.0 588.4v0.3M18.8 575.2h0.3M64.2 570.5v0.6M82.4 605.7v0.6M36.9 599.9v0.3M64.3 624.5h0.7M68.9 624.0v0.2M81.1 588.7h0.5M83.8 581.1h0.6M65.4 573.5v0.1M73.1 555.0v0.8M37.0 588.9h0.1M41.5 612.7v0.5M70.3 579.3v0.7M24.3 571.8v0.8M28.3 616.8h0.3M26.8 590.9v0.9M99.9 575.2h0.8M17.7 553.0v0.8M43.9 596.2v0.2M16.5 590.7h1.0M32.7 569.1v0.4M107.9 626.1h0.4M22.1 571.1v0.3M65.6 618.8v0.9M43.5 557.5v0.3M23.6 616.8v0.5M35.1 594.6v0.6M85.0 588.5v0.4M91.4 615.8h0.7M27.8 605.5h0.5M49.4 587.8h0.4M101.2 570.8v0.5M87.7 598.3h0.6M22.3 560.8h0.8M36.6 564.2h0.4M69.5 610.5h1.0M48.4 606.7v0.6M64.3 581.1h0.4M72.6 569.6h0.4M99.3 561.2v0.2M92.4 599.9v0.5M50.0 562.0v0.7M18.3 617.0h0.5M114.4 565.3v0.4M30.7 580.0v0.4M24.5 584.5h0.5M27.3 604.9v0.3M66.8 567.3h0.4M91.5 585.4v0.6M86.7 604.3h1.0M18.5 568.5v0.8M104.4 597.5v0.2M98.7 569.1h0.3M20.6 616.3h0.5M56.5 582.0h0.2M64.0 576.7h0.7M105.0 596.1h0.7M40.9 586.3h0.6M27.3 588.1h0.6M100.8 577.2h0.5M115.6 558.9v0.7M89.9 611.9v0.6M16.4 582.5h0.3M27.7 594.2h0.7M61.9 566.6h0.6M27.4 606.8v0.5M58.5 607.8v0.2M17.4 583.0v1.0M106.3 617.2v0.5M110.5 567.6v0.6M27.1 559.3h0.6M108.4 623.4h0.5M113.0 625.2v0.6M74.0 618.8h0.3M82.2 614.7h1.0M64.4 591.9h0.2M58.1 581.1h0.2M109.1 587.8v0.2M31.4 603.6h0.8M18.0 582.9v0.4M56.4 563.5v0.9M33.7 586.1v0.4M23.8 556.1v0.8M22.7 611.2v0.9M46.1 601.2v0.2M88.1 590.0v0.6M21.5 592.9h0.3M110.8 552.8v0.1M24.9 553.2v0.7M59.9 569.4v0.9M71.4 598.4h0.6M87.5 601.7h0.9M115.5 574.2v0.2M60.7 587.9h0.8M19.1 617.3h0.3M43.8 582.5v0.8M23.4 589.6h0.9M74.9 567.1h1.0M34.9 617.1v0.8M74.3 589.8h0.5M34.1 601.8v0.2M21.1 618.1v0.1M33.2 588.7v0.3M103.8 575.9v0.5M41.4 599.3v0.2M37.6 586.8h0.9M99.1 584.2h0.2M103.8 606.4v0.3M99.5 589.8h0.5M63.8 578.9h0.5M23.8 614.0h0.3M94.7 569.8h0.3M63.7 601.0h0.9M84.3 624.4h0.3M38.6 575.1v0.1M47.8 601.4h0.9M34.5 596.2h0.1M34.4 558.3h0.2M68.7 617.3v0.1M56.1 617.6h0.7M95.1 581.2h0.4M66.2 622.9v0.5M80.3 559.0v0.5M33.4 598.1h0.4M105.6 568.2h0.6M20.1 578.0v0.1M60.7 552.9h0.6M31.4 553.6v0.5M33.8 587.8v0.6M74.4 571.4h0.8M26.2 593.2h0.9M113.6 559.6h0.3M100.9 591.7v0.2M59.4 571.7v0.3M20.5 610.9h0.7M40.3 608.3v0.8M23.9 559.8v0.8M30.9 586.8v0.1M105.8 565.1v0.2M104.4 590.0v0.4M109.6 561.4v0.9M48.5 594.3v0.1M22.4 570.6v0.9M55.5 577.3v0.6M109.1 587.2h0.5M96.0 599.6h0.3M42.6 557.5v0.3M78.8 559.8h0.7M93.7 621.9v0.4M16.9 588.4v0.4M43.3 593.5v0.7M29.5 555.0h0.2M62.7 558.9h0.5M86.1 587.9h0.6M72.3 557.3h0.6M44.5 619.4v0.8M115.2 558.9v0.8M23.1 616.1v0.4M57.1 614.0v1.0M40.6 560.7v1.0M72.0 578.7v0.9M83.6 619.8h0.3M80.5 609.8v0.5M94.4 609.5v0.4M58.0 611.4h0.9M63.9 574.5v0.6M60.5 556.3h0.1M20.0 624.5h0.3M32.9 591.1v0.1M54.4 592.1h0.4M34.3 563.9h0.4M23.9 580.7h0.3M26.1 622.5v0.7M32.6 619.2v0.2M47.5 625.4v0.4M63.7 612.5v0.6M37.2 588.5v0.3M67.3 600.9h0.9M106.7 625.3v0.6M35.8 602.6v0.7M91.7 596.5v0.9M64.4 556.5v0.3M56.7 569.7v0.6M53.1 579.1h0.4M72.0 603.9h0.8M110.0 619.5v0.9M33.8 557.6v0.7M25.2 608.3h0.7M86.5 572.8v0.7M65.8 590.2v0.9M72.6 621.3v0.5M111.3 585.9v0.4M46.5 586.8h0.3M107.4 578.9h0.7M16.5 580.7v0.3M79.2 559.9h0.6M61.3 621.7v0.4M86.0 567.4v0.8M68.8 570.7h0.4M106.0 583.8v0.1M72.6 553.4v0.8M112.5 594.2v0.2M79.0 582.5h0.6M40.3 594.1v0.3M114.5 565.2v0.2M26.4 555.4v0.8M53.8 559.7v0.6M57.6 617.3v0.8M77.9 610.1h0.6M29.9 600.3v0.9M55.6 565.1h0.7M88.4 565.6h0.6M49.0 615.4h0.1M25.9 617.5v0.8M86.0 573.1h0.6M68.3 614.8v0.8M31.4 569.7v0.8M37.8 592.1v0.6M60.3 578.5h0.4M97.5 620.7v0.8M91.3 578.3h1.0M95.8 589.5v0.4M99.1 609.4v0.7M52.5 588.0h0.4M79.7 585.8h0.9M88.1 574.5v0.8M55.9 571.0h0.6M71.0 583.4v0.8M34.7 570.2v0.3M38.8 597.6h0.3M106.9 603.6h0.7M66.3 583.5v0.3M82.5 582.8h0.6M108.2 595.5v0.7M49.0 580.6h0.6M34.1 587.4v0.7M108.1 608.5h0.6M37.9 572.0h0.9M45.5 601.0h0.8M95.0 612.8h0.4M69.0 601.2h0.5M21.4 566.7h0.5M51.7 598.4h0.7M93.7 599.4v0.7M40.9 606.1h0.5M72.2 582.8h0.8M62.4 619.3v0.5M44.1 582.0v0.6M42.7 571.8h0.4M91.3 586.4v0.2M94.6 565.4h0.8M52.4 562.9h0.9M110.3 595.6h0.2M50.9 554.0v0.7M24.5 585.0v0.5M67.1 577.4h0.2M46.3 604.0h0.9M74.0 601.2v0.7M83.4 584.5v0.5M59.9 565.7h0.5M67.7 565.8v0.2M109.8 617.7h0.9M29.5 586.8v0.8M93.9 581.0h0.8M93.5 560.5h0.5M60.3 556.8h0.4M108.9 567.1v0.2M67.4 580.0v0.9M109.7 626.0v0.3M98.9 590.9v0.5M103.1 619.4h0.8M84.6 559.1h0.8M68.4 555.8h0.7M17.8 619.0v0.1M23.9 583.1v0.9M93.7 610.1v1.0M40.7 576.1v0.2M87.7 612.6v0.9M16.2 571.9v0.8M90.7 614.7h0.5M93.3 584.3h0.2M86.7 558.5v0.9M47.0 561.9v0.6M61.7 596.8h0.8M71.7 593.7h0.2M69.0 590.4v0.5M26.5 598.8v0.3M107.7 595.9v0.3M63.7 566.0v0.6M24.0 588.6h0.8M73.0 623.1h0.3M93.4 619.8h0.4M72.7 603.2v0.7M50.5 601.1h1.0M105.3 615.9h0.2M19.8 605.0v0.6M43.9 595.1h0.4M20.3 611.0v0.8M98.0 624.2h0.5M94.0 562.8h1.0M68.9 624.2v0.5M98.4 583.4v0.8M46.3 615.0h0.1M91.6 557.7v0.6" stroke="#4a0f16" stroke-width="1.3" stroke-linecap="round" fill="none" opacity="0.8" filter="url(#blur05)"/></svg>
<svg x="15.5" y="551.6" width="102.0" height="76.0" viewBox="15.5 551.6 102.0 76.0" overflow="hidden"><path d="M92.6 600.0v0.2M19.7 591.4h0.4M103.2 576.4h0.4M68.4 608.1v0.7M103.2 609.4h0.3M37.4 567.2h0.7M51.2 574.4h0.4M113.8 609.3v0.7M68.3 594.7v0.2M104.9 560.4h0.3M112.0 624.2h0.8M44.9 606.9v0.5M112.1 574.6h0.8M72.2 601.5h0.4M33.3 606.1h0.6M31.8 553.2h0.6M65.8 552.7h0.6M36.7 586.9v0.5M66.2 610.5v0.6M110.4 565.0h0.4M24.4 567.6h0.8M85.6 590.0v0.7M110.3 575.2v0.2M65.8 592.2h0.7M79.8 574.5v0.7M96.9 579.5h0.4M112.9 608.3v0.4M114.0 607.0v0.3M84.6 599.2h0.2M31.9 621.4v0.1M97.5 573.6h0.8M89.2 614.8v0.1M48.2 595.6v0.6M52.8 602.5v0.3M48.7 603.7h0.6M57.4 604.5h0.7M44.7 615.3h0.7M107.7 592.5h0.6M68.7 605.3h0.3M75.5 609.9v0.7M75.3 592.3v0.6M102.3 624.0h0.6M90.9 583.4h0.3M114.1 559.0v0.1M53.9 590.7h0.3M89.1 618.6h0.3M50.4 584.6h0.5M17.8 563.5h0.5M104.5 614.4v0.5M46.0 588.1v0.3M105.6 595.0v0.7M68.6 625.5h0.5M55.0 572.6v0.7M102.2 555.5h0.4M111.9 577.9h0.5M22.7 617.0v0.1M30.8 590.1v0.2M108.3 578.3h0.4M29.5 571.4v0.5M35.2 571.8h0.8M60.7 593.2v0.1M90.1 609.7h0.6M19.4 612.9v0.3M47.2 587.2v0.2M21.3 560.9h0.8M52.4 586.2h0.8M92.3 606.2h0.6M50.5 599.1h0.5M45.4 588.2h0.6M51.0 582.1v0.3M26.8 564.2h0.5M87.2 594.8v0.7M116.1 615.2v0.6M99.3 603.6v0.5M77.0 563.9v0.5M114.7 585.3h0.6M108.1 613.4v0.3M46.1 596.6v0.6M76.5 571.7v0.2M114.2 559.4v0.7M32.0 624.4v0.5M103.8 617.2h0.3M86.7 623.7v0.4M58.5 589.1v0.1M91.7 572.9v0.5M93.1 622.9h0.7M63.2 608.8h0.6M77.5 596.0v0.2M26.0 609.6v0.7M89.5 620.4h0.7M19.2 578.3v0.7M75.2 569.4h0.6M104.7 616.4v0.5M53.8 591.5v0.6M22.1 589.2h0.1M66.3 617.5h0.2M112.4 588.2h0.7M112.8 609.6h0.1M65.2 620.1h0.4M57.3 618.4v0.3M97.0 595.4v0.2M96.8 600.2v0.5M102.6 602.3h0.5M84.7 560.4h0.5M98.0 573.6v0.4M110.2 553.4v0.6M109.1 616.7v0.8M51.3 597.2v0.4M88.7 599.3h0.3M70.8 608.7h0.7M20.8 580.5h0.4M105.1 590.5h0.7M25.7 604.0v0.7M33.3 603.5v0.7M43.2 583.9v0.1M29.4 576.4v0.7M90.4 562.1h0.6M105.2 615.2h0.5M114.3 602.7v0.6M39.3 581.2h0.5M92.5 607.3h0.3M110.3 610.8v0.8M73.1 588.5h0.1M34.8 588.6v0.3M113.0 603.8h0.4M25.5 590.0h0.3M103.7 623.7h0.3M107.5 563.2v0.5M89.7 626.1v0.2M46.4 601.5v0.2M52.6 585.4h0.4M95.2 561.0v0.5M72.6 589.6h0.3M22.9 572.0v0.2M33.5 599.7v0.3M52.5 589.5v0.7M71.9 599.1h0.5M109.1 605.9v0.5M55.5 583.1h0.4M21.5 595.7h0.5M33.9 578.7h0.5M25.4 622.4v0.4M26.7 553.2v0.4M29.1 606.0h0.2M94.7 599.9h0.1M69.2 584.6h0.8M94.4 619.4v0.3M81.4 585.0h0.5M72.7 599.4v0.4M112.7 596.0v0.1M16.1 599.8h0.2M52.5 594.0h0.2M16.3 616.6v0.2M107.1 587.9h0.6M103.0 585.0v0.6M34.2 588.3h0.7M16.3 568.8h0.2M74.5 570.0h0.5M28.9 572.1v0.5M69.9 592.7v0.8M110.6 610.9h0.4M26.7 586.0v0.2M85.4 575.8h0.6M38.0 552.4v0.8M98.7 585.2h0.4M76.8 596.9v0.3M78.7 590.7h0.3M86.2 563.8v0.5M31.6 553.1v0.6M56.6 612.0v0.3M18.4 591.1v0.3M89.2 625.0h0.3M112.7 597.4h0.7M42.4 594.1v0.8M95.2 615.7h0.6M86.0 585.1h0.3M102.6 608.3v0.3M112.0 594.7v0.1M112.1 617.9h0.7M114.1 563.8h0.5M86.4 565.3h0.5M91.2 587.4v0.4M28.5 563.5v0.7M51.4 572.4v0.4M56.4 579.4h0.5M99.9 554.3h0.4M47.1 609.2h0.7M102.3 587.3h0.5M39.0 614.7v0.6M48.4 599.2v0.3M19.1 617.1h0.2M109.2 574.4h0.3M103.8 621.8h0.7M70.6 614.4v0.4M79.7 619.1v0.2M102.4 605.6v0.3M16.1 556.6h0.3M109.9 614.3v0.7M38.4 568.9h0.6M77.1 581.5h0.3M83.9 597.0v0.4M85.2 578.5h0.6M112.9 554.1h0.7M99.9 603.6h0.6M52.7 562.9v0.7M109.7 575.9h0.3M28.2 592.2h0.7M20.7 583.2v0.6M55.7 596.9v0.2M110.7 620.8v0.2M109.1 573.4h0.6M47.9 583.9h0.2M48.1 602.5v0.2M34.6 571.9v0.3M74.1 601.2v0.4M48.3 576.0v0.2M107.2 606.9h0.3M113.1 621.5v0.3M21.4 563.6h0.4M96.7 588.9v0.8M88.2 613.1v0.5M87.7 569.1h0.7M100.1 602.6h0.7M110.2 573.7h0.6M98.2 617.5h0.2M22.9 613.4v0.5M27.9 612.0h0.2M82.8 567.1v0.7M37.1 604.7h0.4M98.8 618.1h0.8M18.4 577.0v0.1M50.2 577.6v0.2M40.8 582.8h0.6M109.8 601.0v0.2M93.2 617.0h0.6M73.9 624.1h0.6M16.3 619.7h0.4M98.8 581.9v0.3M70.7 583.1v0.5M62.5 611.0v0.7M75.3 587.0h0.2M76.1 590.9h0.8M52.6 572.4h0.8M104.7 559.3v0.5M73.9 604.9h0.1M110.7 586.4h0.3M81.4 621.6v0.2M114.9 624.7h0.3M44.5 590.9h0.6M98.8 583.2v0.8M20.5 593.6v0.5M111.6 604.1v0.1M62.5 585.3h0.4M53.9 552.3h0.1M96.0 599.4v0.4M82.4 558.3v0.4M40.7 594.9v0.3M49.0 557.5h0.4M38.4 605.4v0.2M47.3 607.1v0.5" stroke="#7a1a20" stroke-width="1.1" stroke-linecap="round" fill="none" opacity="0.8" filter="url(#blur05)"/></svg>
<svg x="15.5" y="551.6" width="102.0" height="76.0" viewBox="15.5 551.6 102.0 76.0" overflow="hidden"><path d="M25.2 614.7v0.2M77.4 605.9h0.3M91.0 562.0v0.5M73.4 595.7h0.3M42.1 565.5v0.5M96.8 562.5v0.3M44.4 584.4h0.3M33.6 616.9h0.2M22.7 568.2h0.2M20.7 565.8h0.5M111.2 625.8h0.6M85.5 595.5v0.5M44.6 563.7v0.2M90.3 599.8v0.2M23.1 557.4h0.2M71.9 570.1v0.6M110.3 590.8h0.2M103.4 603.8v0.6M59.2 609.3h0.4M102.3 606.3v0.6M48.5 624.7h0.5M92.9 565.4h0.1M79.1 590.2v0.3M27.6 555.8v0.4M62.9 621.6v0.6M58.5 599.4h0.2M101.0 571.8v0.6M99.7 619.9h0.5M66.6 584.6h0.5M61.1 621.9v0.2M33.4 611.4v0.5M61.3 587.6v0.4M111.7 597.1h0.2M29.2 567.7v0.5M21.2 608.5v0.2M74.7 602.4h0.4M64.2 599.0h0.1M25.7 556.3v0.6M74.5 596.6h0.6M38.1 554.8h0.6M56.8 576.5h0.4M97.2 583.4v0.2M63.2 624.2h0.4M85.6 609.4h0.2M46.5 615.7h0.5M65.6 623.8v0.1M70.6 596.5v0.4M20.9 579.5v0.4M47.9 565.4v0.1M59.1 584.5v0.4" stroke="#a83030" stroke-width="1.1" stroke-linecap="round" fill="none" opacity="0.8" filter="url(#blur05)"/></svg>
<line x1="86.3" y1="625.0" x2="110.6" y2="625.0" stroke="#c9c9c9" stroke-width="1.5"/>
<rect x="121.8" y="551.6" width="101.5" height="76.0" fill="#5a0c16"/>
<rect x="121.8" y="551.6" width="101.5" height="76.0" fill="#6a1018" filter="url(#fI2)"/>
<line x1="192.5" y1="625.0" x2="217.0" y2="625.0" stroke="#dadada" stroke-width="1.5"/>
<rect x="227.5" y="551.6" width="101.8" height="76.0" fill="#13040a"/>
<svg x="227.5" y="551.6" width="101.8" height="76.0" viewBox="227.5 551.6 101.8 76.0" overflow="hidden"><path d="M268.0 611.5v0.5M293.3 622.7h0.7M325.2 570.2h1.0M309.4 625.9v0.7M231.6 601.6v0.8M309.9 612.5h1.0M289.9 609.3h0.9M305.1 553.5v0.9M256.5 623.8h0.2M315.9 598.2v0.1M244.6 558.7v0.5M303.2 624.1h0.8M313.3 612.0v0.4M303.2 594.4v0.6M280.8 583.3h0.7M314.6 624.1h0.4M234.9 610.0h0.2M232.1 573.3v0.3M231.2 611.8v0.5M268.5 613.5h0.4M261.6 564.6v0.5M240.8 603.9h0.3M295.0 556.6h0.8M284.5 592.0v0.3M319.0 590.1v0.8M250.3 591.3v0.2M278.3 615.2h0.8M279.5 582.9v1.0M256.0 560.1h0.6M307.0 561.5v1.0M268.2 602.4h0.1M246.9 567.4v0.8M241.8 594.8v0.8M231.0 570.8v0.3M295.3 565.3h0.8M276.0 587.6h0.6M258.9 567.2h0.2M256.9 598.1v0.3M320.0 600.9v0.1M308.6 613.6h0.7M230.7 590.5v0.7M230.5 610.7v0.4M253.9 559.0h0.8M260.5 621.1v0.8M283.5 595.9v0.1M286.4 556.0h0.7M281.4 589.1v0.3M281.6 592.9h0.7M238.4 612.3h0.5M258.4 559.6v0.9M259.9 616.8v0.3M293.3 572.9v0.2M257.1 571.1v0.7M234.3 561.3v0.8M268.4 591.9h0.3M327.6 553.4h0.6M289.8 594.8h0.8M322.7 600.9v0.7M269.9 606.5h0.8M276.2 586.7h0.4M243.2 573.9v0.7M237.0 585.0h0.7M325.2 603.5v0.5M231.2 574.5v0.7M285.3 612.7h0.2M251.6 558.4h0.3M299.3 626.2v0.1M309.3 562.4h0.3M290.8 619.1h0.3M316.6 587.1h0.1M307.9 613.3v0.7M241.1 556.4v0.9M296.9 566.4v0.8M317.2 579.4h0.3M277.9 613.6v0.4M289.6 622.4h0.6M316.2 589.8h0.9M250.7 601.2h0.8M254.7 617.7h0.7M259.2 570.1h0.4M294.7 584.4h0.9M328.1 594.1v1.0M254.7 589.4v0.4M274.3 600.2v0.3M313.9 565.2v0.7M300.1 604.4h0.9M259.2 589.2h0.3M295.7 582.4v0.5M243.9 599.9h0.9M235.0 602.5h0.4M254.3 590.7v0.6M290.0 559.1v0.9M319.0 552.4v0.9M322.0 593.2h0.8M323.9 620.2v0.3M259.7 579.4h0.6M246.1 583.7v0.4M323.2 567.2h0.1M273.5 601.0h0.5M325.8 562.0v0.4M248.9 558.7v0.9M234.1 606.9h0.5M316.1 612.2h1.0M274.8 623.8h0.5M289.1 568.6h0.9M287.9 600.9h0.5M317.2 568.1h0.7M311.1 611.5h0.5M268.5 559.9h0.8M315.9 559.6v0.7M307.3 613.3h0.3M228.6 604.8h0.7M270.8 624.3h1.0M247.8 591.8h0.4M320.7 626.2v0.7M320.4 558.1h0.7M286.5 611.5v0.7M288.4 593.9h0.3M261.6 575.9h0.3M274.2 569.1h0.6M312.0 554.0h0.9M236.8 558.0v0.6M295.6 589.9h0.5M272.1 591.2v0.8M282.6 618.7v0.9M321.2 603.2v0.9M306.5 577.9v0.2M307.8 599.3v0.4M260.0 582.1v0.7M241.1 625.2v0.8M307.7 558.7v0.2M267.4 612.9h0.4M256.6 584.4v0.4M250.7 608.7v0.6M311.3 601.7h0.1M307.9 573.6v0.6M261.6 579.2v0.7M242.3 587.3v0.8M242.2 559.4h0.3M284.7 562.3v0.9M266.4 553.1h0.6M311.1 559.6h0.2M243.4 567.1v0.7M230.0 593.8v0.4M253.9 564.9h0.7M269.1 611.3v0.5M297.5 574.0h0.1M271.4 575.9h0.8M308.7 554.9h0.8M325.5 610.7v0.5M263.1 606.9v0.6M279.2 556.2v0.9M229.1 590.5h0.3M318.2 610.5h0.3M236.2 561.8h1.0M317.4 614.9h0.9M290.6 595.5h0.2M268.5 552.9v0.5M313.2 579.8h1.0M313.5 614.1v0.2M313.0 591.6v0.2M298.2 613.4h0.5M311.6 568.7h1.0M255.9 556.6v0.3M273.6 584.7v0.6M251.2 619.0h0.6M295.1 587.4h0.4M273.7 571.8h0.2M310.2 552.4h0.6M293.7 571.0v0.1M294.0 557.7h0.8M306.7 616.0v0.8M278.0 599.2v0.7M311.1 615.9v0.3M286.1 616.7v1.0M238.7 606.7h0.7M237.6 619.3v0.9M253.5 587.8h0.3M275.7 597.5h0.5M230.4 587.7h0.8M326.7 606.0v0.5M244.5 564.7h0.4M263.9 626.0h0.2M241.3 570.8v0.5M231.8 569.4v0.7M297.3 609.2h0.5M294.7 571.5v0.7M250.4 572.0v0.4M282.2 619.0h0.1M321.2 553.6h0.2M271.5 559.3v0.6M324.3 583.7h0.8M261.8 613.5v0.2M247.0 624.2h0.1M236.7 560.8v0.5M244.8 622.1v0.6M286.0 587.1v0.8M294.7 571.7v0.7M283.9 622.5h0.8M267.8 621.4v0.1M287.1 608.9v0.8M242.6 561.8h0.6M276.7 599.4v0.2M297.5 579.6h0.9M295.3 605.3v0.2M259.1 577.3h0.5M263.2 609.9v0.2M308.7 565.2v0.7M242.6 572.7v0.4M279.4 592.6h0.2M235.5 592.0v0.6M297.1 571.7v0.5M295.9 618.7v0.8M312.0 579.3v0.6M231.0 625.3h0.1M229.4 610.5v0.3M305.9 592.2h0.4M238.3 619.5v1.0M277.4 612.7v0.7M248.8 578.6h0.4M245.7 561.9v0.1M303.3 622.9h0.9M232.0 591.2h0.2M238.2 552.6v0.3M246.5 608.6v0.6M239.3 598.6h0.6M257.7 593.9v0.2M258.7 557.9h0.2M278.1 570.6h0.5M246.0 556.0v1.0M228.3 590.7h0.3M283.1 612.7v0.9M258.5 608.0h0.6M325.4 576.8h0.2M304.9 613.5h1.0M271.3 588.2v0.3M232.2 567.2v0.8M238.7 574.9h0.6M275.1 622.6v0.4M288.8 559.3h0.7M305.3 590.5h0.2M287.1 591.2v0.6M269.7 571.5h0.8M303.4 580.1v0.6M260.5 621.7v0.2M327.8 616.7v0.8M240.4 608.2v0.6M234.1 606.0h0.2M234.5 572.0v0.7M276.4 617.2v0.7M293.9 561.1h0.4M253.1 580.3v0.5M247.7 617.4v0.2M283.6 555.5h0.4M296.5 592.9h0.3M316.1 566.7h0.2M306.3 571.2h0.7M237.6 591.1v0.4M313.5 610.7h0.6M268.5 558.2v0.8M252.7 608.3h0.7M298.9 604.8h0.3M240.8 564.3v0.4M291.5 562.4v0.6M243.5 595.6v0.3M261.2 585.6v0.4M306.5 592.8v0.5M300.2 586.9v0.5M279.2 584.4v0.8M231.3 562.0v0.2M300.0 601.1h0.8M300.7 569.9h0.6M279.4 566.8v0.6M244.2 606.5v1.0M269.3 576.3h0.6M264.8 596.1v0.8M257.5 611.8v0.9M229.2 603.4h0.2M228.7 558.2h0.4M265.4 579.9v0.2M316.7 598.5h0.6M254.7 592.3h0.4M319.9 602.0h0.7M309.4 616.5h0.6M268.6 604.2h0.2M325.0 555.2h0.9M241.0 609.2v0.2M316.1 604.7h0.4M275.9 592.5v0.4M245.3 590.8h0.8M259.2 613.3v0.6M268.7 600.2h1.0M239.9 593.5h0.2M292.0 609.1v0.2M305.2 588.2v0.6M244.3 580.7v0.9M286.6 599.2v0.5M238.2 617.8h0.8M228.2 618.0v0.4M325.8 602.8v0.2M325.9 592.2h0.1M271.9 622.7h0.6M305.8 568.7v0.6M235.1 601.1v0.2M259.0 570.6v0.5M313.7 625.7h0.4M237.3 561.2h0.5M241.0 558.4h0.7M243.4 570.5h0.4M255.1 563.6v1.0M247.3 561.4v1.0M258.7 560.1v1.0M283.3 604.0h0.6M322.2 579.5v0.3M288.9 576.9v0.8M302.4 558.2h0.7M305.0 567.1v1.0M316.0 566.2v0.4M277.4 615.3h0.9M228.2 574.4h0.8M309.0 560.7v0.3M242.4 618.3h0.2M286.6 583.5v0.1M237.9 594.4h0.2M240.0 588.2h0.7M322.1 623.5h0.4M272.4 598.4h0.8M291.6 600.0v0.4M322.6 586.5v0.8M268.5 575.4v0.3M248.1 588.1v0.7M300.9 575.9h0.1M265.2 595.9h0.8M309.3 604.3h0.9M284.3 575.4h0.6M251.4 586.4h0.6M275.2 557.8v0.6M315.2 619.4v0.2M267.2 567.4h0.2M277.0 594.3v0.6M280.4 593.3h0.2M252.5 584.3v0.7M262.9 572.5h0.9M290.0 563.8v0.4M291.3 581.5v0.8M286.4 621.7h0.3M326.9 567.4v0.8M236.6 559.8h0.8M275.1 595.4h0.2M273.2 588.4h0.2M231.9 613.8v0.8M289.8 605.5h0.7M263.9 566.8v0.5M281.6 620.2h0.6M262.5 563.6v0.5M283.0 583.1h1.0M276.9 579.1h0.8M279.5 625.5h0.6M265.9 571.3h0.8M274.6 608.5v0.3M261.7 590.5h0.4M309.6 575.1v0.3M258.2 578.2v0.6M240.0 581.9v0.9M296.8 624.1v1.0M232.5 593.6v0.1M237.1 572.3h0.5M289.7 598.4v0.8M308.3 595.1v0.3M321.4 586.3h0.2M242.7 593.9v0.6M279.5 591.5v0.5M247.6 588.2v0.7M275.4 559.0v0.3M274.7 606.8h0.9M236.9 578.4v0.7M316.4 598.3h0.5M242.0 603.6v0.1M316.5 612.4h0.8M302.4 570.1v0.7M266.5 558.3v0.6M246.1 588.5h0.5M317.1 605.8v1.0M294.2 613.7v0.6M239.0 595.1v0.6M254.0 565.0h0.2M293.7 559.3v0.8M298.0 620.1v0.4M289.1 582.8h0.3M254.3 557.2v0.5M234.9 588.1h0.4M288.7 616.7v0.4M303.9 607.6v0.6M300.8 576.0h0.8M267.5 589.7v0.9M271.8 609.3v0.4M312.4 572.7h0.9M292.4 578.7h0.6M230.8 552.3h0.8M291.4 559.2v0.3M271.8 583.7h0.8M248.7 576.6h0.2M271.3 586.7v0.7M316.7 557.2v0.3M265.0 563.5h0.7M237.5 617.9v0.4M261.5 605.3v0.1M273.2 609.8h0.9M272.0 572.9v0.8M242.2 566.4v0.2M241.4 575.5h0.4M300.9 597.6v0.5M234.1 619.0h0.4M264.2 612.4h0.7M270.7 571.7v0.7M283.6 613.1v0.6M245.9 598.0v0.1M297.7 565.0v0.3M243.5 606.2v0.5M281.1 583.4h0.3M249.5 600.6h0.9M297.3 556.7h0.5M228.4 609.3v0.2M259.6 581.9v0.4M298.3 567.9h0.6M296.7 617.0v0.4M252.4 582.3h0.4M261.6 613.2v0.4M294.5 597.2h0.5M255.9 603.4h0.1M281.5 566.4h0.2M253.6 592.5h0.3M290.4 585.1v1.0M314.0 613.2h0.6M244.1 610.4v0.8M281.4 605.6v0.5M310.4 568.8v0.6M285.5 558.0v0.6M243.0 573.2v0.4M321.6 560.9h0.7M323.8 566.3v0.6M251.2 574.1h0.3M243.8 623.5v0.6M323.1 604.3v0.7M322.5 598.2v0.2M244.7 558.3v0.5M242.8 575.1v0.2M318.1 606.1h0.7M277.3 594.0h0.3M291.1 566.4v0.9M240.5 562.6h0.9M301.1 591.0v0.2M282.0 558.1v0.9M241.0 555.8v0.2M239.4 554.0h0.1M249.1 574.0h0.8M294.9 625.8v0.3M250.4 614.9h0.7M284.4 607.0v0.6M242.1 584.9h0.4M243.5 588.7v0.6M234.6 587.0h0.5M272.4 612.5h0.7M300.3 560.1v0.2M237.8 619.6v0.9M312.4 573.8h0.9M259.5 615.0v0.5M257.8 563.4v0.5M311.8 590.9h0.6M272.7 608.8h0.6M233.6 606.4v0.7M285.6 592.9v0.2M316.1 625.4v0.8M270.5 554.0h0.2M247.1 572.2v0.4M262.3 626.1h0.9M279.7 595.4h0.8M306.2 552.3h0.6M245.5 577.2v0.5M280.7 593.8v0.7M316.6 599.1v0.7M229.0 579.2v0.6M243.4 575.0v0.4M257.2 616.5h0.3M264.0 575.6v0.9M294.8 581.6v0.1M303.6 582.7v0.1M327.1 582.5v0.5M284.0 621.0h0.8M294.0 579.9v0.8M278.5 585.4v0.4M262.8 620.9h0.2M232.7 603.4h0.4M306.2 585.5v0.7M272.7 579.9h0.4M271.7 589.9v0.4M275.6 613.2h0.5M234.7 600.0v0.9M303.0 573.4h1.0M318.0 624.0v0.3M260.7 573.7v0.5M235.5 570.1v0.8M266.5 604.1h0.4M284.7 559.9h0.1M255.4 621.4v0.4M297.6 602.2v1.0M267.6 570.6h0.4M292.4 607.3v0.3M318.3 581.3v0.9M262.7 610.8h0.9M301.5 602.4v0.4M289.8 569.7v0.1M277.5 565.5h0.3M262.0 558.9v0.6M257.8 575.4h0.9M295.3 611.4v0.7M292.9 622.8h0.6M299.4 585.0v0.9M264.5 592.4h0.1M247.1 616.0v0.5" stroke="#4c0e16" stroke-width="1.3" stroke-linecap="round" fill="none" opacity="0.8" filter="url(#blur05)"/></svg>
<svg x="227.5" y="551.6" width="101.8" height="76.0" viewBox="227.5 551.6 101.8 76.0" overflow="hidden"><path d="M324.6 592.2h0.5M309.4 580.3v1.0M262.1 624.2h0.7M292.0 595.5h0.1M314.3 622.9v0.9M281.6 622.8v0.8M301.1 558.8v0.3M304.7 614.8h0.8M241.8 570.6h0.5M280.1 605.6h0.2M241.3 567.1h0.9M321.1 602.5h0.1M293.5 587.1v0.9M273.7 614.1h0.8M315.2 623.3h0.9M295.5 603.7v0.9M321.9 614.9v0.4M296.8 603.2h0.5M307.8 556.4v0.9M282.9 624.8v0.9M321.9 559.5v0.6M258.2 625.4v0.7M316.6 614.8h0.8M301.5 606.6h0.4M306.6 587.8v0.3M306.1 578.3h1.0M261.8 580.6v0.4M261.8 592.7v0.7M268.8 566.3h0.5M234.3 603.6h1.0M279.4 599.5h0.4M293.6 573.9h0.2M317.5 575.3h0.9M288.6 584.8h0.6M320.3 576.1h0.2M253.8 603.6v1.0M306.3 590.4v0.2M272.6 594.3v0.8M287.5 559.5h0.7M286.0 569.2v0.5M290.7 592.5h0.6M279.8 615.1v0.8M260.5 568.9v0.1M320.1 579.8v0.7M256.8 568.3v0.6M274.6 572.8v0.8M309.4 592.8v0.7M307.4 621.4v1.0M273.8 579.6v0.9M308.2 620.7h0.6M290.0 559.5v0.6M287.2 611.8v0.9M291.3 613.8v0.5M272.7 577.7h0.1M233.7 559.3h0.8M310.5 598.4h0.5M271.0 607.5v0.9M254.5 585.4h0.1M299.0 583.7v0.9M269.2 556.1h0.6M279.4 616.5h0.7M237.8 620.1h0.3M321.2 590.4h0.5M246.3 612.1h0.9M283.0 577.5h0.4M325.4 624.5h0.5M248.8 611.5h0.4M299.1 614.7h0.5M323.0 586.8h0.8M288.8 589.3v0.3M259.4 554.3h0.6M271.5 574.1v0.5M233.5 616.5v0.2M326.8 592.9h0.2M320.9 565.2v0.4M294.1 554.8h0.6M278.0 587.1h0.7M230.3 562.0v0.7M280.7 567.7v0.6M312.3 597.5v0.2M249.4 570.2h0.8M326.0 589.2v0.9M304.2 577.8v0.2M263.2 572.2h0.8M317.3 553.5h0.5M314.6 620.7v0.8M279.0 614.9h0.1M320.9 565.9h0.5M320.3 577.8h0.9M279.4 598.0h0.9M281.2 610.1v1.0M296.6 552.8h0.6M276.5 586.2h0.7M281.1 622.0h0.5M294.5 574.9h0.4M307.2 600.7v0.2M306.3 560.9v0.7M285.5 617.1h0.7M318.6 593.2v0.5M318.0 582.4v0.4M310.7 563.2v0.5M242.4 600.3v0.4M323.5 579.8v0.8M258.3 605.5h0.6M272.8 584.6v0.4M315.6 587.6h0.8M273.0 587.4h1.0M325.3 614.8v0.9M266.3 575.8h1.0M280.8 610.9h0.9M277.5 607.4v0.4M299.5 562.9v0.5M269.9 584.9v0.5M313.9 557.2v0.1M269.3 565.2h0.6M254.7 615.7h0.6M311.2 582.1v0.6M327.1 594.0v0.6M315.4 609.0h0.1M322.2 588.0v0.6M327.7 599.6v0.4M315.4 586.6v0.4M300.5 601.0v0.3M304.7 573.9h0.6M258.3 616.9h0.8M319.0 597.9h0.8M314.0 590.2v0.5M282.6 554.4v0.3M306.9 556.4h0.1M318.2 610.6h0.9M318.6 582.7h0.1M272.3 620.2h1.0M278.9 570.3h0.8M276.6 607.9h0.1M291.2 576.3v0.8M264.2 559.3v0.6M278.9 565.0h0.6M265.9 613.6v0.6M239.3 556.3v0.9M321.3 566.1h0.8M285.8 600.8v0.4M301.7 620.1v0.1M320.4 620.4v0.4M297.2 583.2h0.4M267.0 576.3v0.9M253.7 572.2v0.2M286.8 582.1v1.0M229.2 598.2h0.4M298.2 578.1v0.9M323.5 579.8h0.6M294.5 590.9h0.4M261.1 589.7v0.1M268.0 617.7h0.5M291.4 619.2h0.5M321.2 595.0h0.2M263.8 584.1h0.8M326.0 592.7h0.6M317.6 619.8v0.2M325.2 583.0h0.9M319.3 555.0v0.8M327.9 564.9h0.4M301.2 569.2v0.7M236.4 620.6v0.5M262.4 554.3v0.5M237.1 583.4v0.2M319.8 587.7h0.5M263.1 563.5v0.6M285.1 568.7v0.7M272.2 569.1v0.3M286.9 586.6v0.3M279.0 568.6h0.5M250.5 618.3h0.6M322.3 598.2v0.8M254.3 624.2h0.8M286.4 572.9h0.8M265.4 579.4v0.3M232.4 607.9h0.7M280.3 578.8h0.2M298.5 579.5v0.8M299.2 573.3v0.1M293.7 563.6h1.0M228.4 577.3v0.7M242.2 605.0h0.3M313.7 588.3h0.4M318.8 566.9h0.3M296.6 566.4h0.9M317.0 568.6v0.7M261.1 604.1h0.5M287.9 612.0v0.8M325.2 589.2v0.8M231.8 556.2h0.5M279.7 561.0v0.3M274.3 562.1v1.0M246.8 606.6h0.9M275.6 570.8h0.8M318.3 571.8v0.7M297.4 559.0h0.4M307.8 625.1v1.0M304.7 616.9h0.2M326.3 582.0v0.6M270.3 619.7v0.8M249.8 575.4v0.6M314.6 560.1h0.8M312.2 565.6v0.2M305.6 624.0h0.8M277.3 561.6h0.3M305.0 624.1h0.3M282.0 575.2h0.6M320.1 612.0v0.4M267.1 591.1v0.2M268.8 618.2v0.9M305.1 612.9v0.4M285.0 600.1h0.6M314.8 597.6h0.5M275.7 584.9h0.7M284.3 595.1h0.9M297.7 605.5h0.2M327.3 600.1h0.3M313.1 554.4h0.5M239.6 552.7v0.2M310.5 565.5v0.5M326.7 562.6h0.9M281.4 567.6h0.3M314.3 624.6v0.2M324.6 559.0v0.1M286.9 620.7h0.5M266.6 603.0h0.3M327.8 575.6v0.7M280.2 617.9v0.7M299.5 609.5h0.5M273.9 605.2v0.4M282.4 582.4h0.2M282.1 600.3v0.5M304.2 595.0v0.5M308.9 573.3v0.4M300.2 596.4v0.4M311.0 552.6v0.8M252.9 554.1h0.1M278.3 602.7v0.7M319.3 604.8h0.8M302.7 586.1v0.2M310.5 583.8v0.7M316.6 587.8h0.6M281.9 615.5v0.9M309.0 562.8h0.3M326.3 609.9h0.7M326.2 593.5h0.4M324.6 594.1v0.8M312.3 554.3v0.2M314.5 558.3h0.2M252.0 569.4h0.2M276.7 605.9h0.1M300.7 601.2v0.9M261.2 555.4v1.0M297.9 562.1v0.7M240.6 599.6h0.9M308.8 609.7h0.3M266.3 576.6h0.5M256.0 621.9v0.4M302.4 569.5v0.3M323.5 585.7h0.7M325.9 622.4h0.5M249.4 576.8v0.7M255.6 566.1v0.9M307.3 577.2h0.5M274.4 571.2h0.6M232.5 622.0h0.4M322.9 557.4v0.6M279.2 579.7h1.0M308.4 557.6h0.4M260.9 574.9h0.6M275.3 622.9v0.8M240.3 582.4h0.8M327.1 614.1h0.1M299.2 563.3v0.3M314.7 579.2v0.9M306.4 576.5v0.2M300.9 615.1h0.3M296.2 607.6v0.5M281.8 566.2h0.1M283.4 625.8v0.3M317.7 590.2h0.5M279.1 601.1h0.8M276.3 598.0h0.6M312.9 573.2v0.9M278.2 593.9v0.3M305.4 564.7h0.6M296.5 603.1h0.3M233.2 590.7h0.7M303.2 575.4h0.4M293.4 602.9v0.9M310.2 578.9v0.8M275.1 560.6h0.9M317.4 605.5h0.8M302.8 577.5v0.9M304.8 559.6v1.0M237.9 584.9h0.4M318.8 553.2v0.8M313.6 571.6v0.8M302.8 606.7v0.6" stroke="#8e1c25" stroke-width="1.3" stroke-linecap="round" fill="none" opacity="0.85" filter="url(#blur05)"/></svg>
<svg x="227.5" y="551.6" width="101.8" height="76.0" viewBox="227.5 551.6 101.8 76.0" overflow="hidden"><path d="M231.3 624.1v0.8M284.8 625.4h0.4M287.5 561.2h0.4M310.3 602.3h0.8M249.6 563.2h0.3M298.3 613.6v0.6M315.7 553.8v0.7M309.3 603.5v0.7M245.0 624.6h0.2M235.3 584.2v0.2M279.5 552.5v0.1M247.4 603.3v0.4M324.0 563.6h0.5M276.6 563.3v0.6M316.0 584.3h0.7M317.5 592.2h0.5M253.7 613.0v0.7M312.4 600.0h0.7M327.2 586.6v0.1M250.2 625.8v0.2M310.8 600.7h0.4M318.3 615.9h0.3M294.8 587.3v0.5M300.8 605.2h0.7M306.0 620.0h0.1M304.3 606.5h0.6M274.5 609.0v0.6M326.6 588.8v0.2M285.0 583.3v0.2M290.7 575.5v0.3M290.8 577.5h0.6M317.1 561.3h0.7M295.3 625.6v0.2M326.3 596.3v0.2M276.4 608.8v0.2M300.2 578.3v0.3M285.6 554.9v0.3M305.8 616.9h0.6M298.8 583.6h0.7M301.1 565.7h0.5M268.7 564.8v0.5M315.0 601.2v0.8M233.3 600.1h0.2M308.9 593.7v0.7M291.6 576.6h0.7M311.4 553.1v0.4M273.1 619.2h0.5M302.4 598.7h0.6M315.1 619.2h0.6M258.3 580.1h0.6M284.3 558.3v0.7M317.6 590.5v0.5M293.9 601.1h0.3M308.9 572.0v0.2M312.7 611.7h0.7M261.0 624.7h0.1M301.1 563.9h0.6M288.6 623.7h0.7M280.6 606.2h0.7M275.3 556.7v0.6M282.9 574.8h0.6M254.8 558.3h0.4M229.2 569.9v0.7M274.7 614.3h0.8M322.9 598.0v0.5M263.1 588.0v0.1M300.9 616.6v0.7M252.0 586.8v0.2M314.1 609.8h0.4M304.3 575.4h0.5M244.3 567.9v0.5M279.8 623.4h0.3M284.7 565.7h0.8M320.1 553.6v0.6M269.6 586.6h0.4M327.3 571.8v0.2M274.5 597.2h0.7M319.3 586.3v0.8M295.1 593.1h0.2M307.4 616.0h0.1M266.3 570.0h0.4M298.5 566.1h0.6M302.3 599.7h0.6M326.2 575.6h0.6M309.8 599.3v0.7M281.4 622.1v0.1M261.1 554.6v0.7M286.0 615.3h0.5M305.6 572.7v0.5M323.4 588.8v0.7" stroke="#c83535" stroke-width="1.3" stroke-linecap="round" fill="none" opacity="0.85" filter="url(#blur05)"/></svg>
<line x1="298.3" y1="625.0" x2="323.0" y2="625.0" stroke="#c9c9c9" stroke-width="1.5"/>
<text font-size="8.2" transform="translate(53.8 641.3)"><tspan font-style="italic">Vwf</tspan><tspan dx="1.6" dy="-3.6" font-size="5">-/-</tspan></text>
<text font-size="8.2" textLength="60.6" lengthAdjust="spacingAndGlyphs" transform="translate(142.5 641.3)"><tspan font-style="italic">Vwf</tspan><tspan dx="1.6" dy="-3.6" font-size="5">-/-</tspan><tspan dx="0.8" dy="3.6"> + Wilfactin</tspan></text>
<text font-size="8.2" textLength="94.5" lengthAdjust="spacingAndGlyphs" transform="translate(231.3 641.3)"><tspan font-style="italic">Vwf</tspan><tspan dx="1.6" dy="-3.6" font-size="5">-/-</tspan><tspan dx="0.8" dy="3.6"> + Wilfactin + α-RGD</tspan></text>
<rect x="400.6" y="581.7" width="12.1" height="49.8" fill="#2f4c7e"/>
<line x1="406.6" y1="578.5" x2="406.6" y2="582.2" stroke="#111" stroke-width="1.1"/>
<line x1="404.1" y1="578.5" x2="409.1" y2="578.5" stroke="#111" stroke-width="1.1"/>
<rect x="418.1" y="613.2" width="12.9" height="18.3" fill="#a60329"/>
<line x1="424.6" y1="610.5" x2="424.6" y2="613.7" stroke="#111" stroke-width="1.1"/>
<line x1="422.1" y1="610.5" x2="427.1" y2="610.5" stroke="#111" stroke-width="1.1"/>
<rect x="436.9" y="574.5" width="13.0" height="57.0" fill="#a60329"/>
<line x1="443.4" y1="571.5" x2="443.4" y2="575.0" stroke="#111" stroke-width="1.1"/>
<line x1="440.9" y1="571.5" x2="445.9" y2="571.5" stroke="#111" stroke-width="1.1"/>
<rect x="455.2" y="601.9" width="12.7" height="29.6" fill="#a60329"/>
<line x1="461.5" y1="599.2" x2="461.5" y2="602.4" stroke="#111" stroke-width="1.1"/>
<line x1="459.0" y1="599.2" x2="464.0" y2="599.2" stroke="#111" stroke-width="1.1"/>
<line x1="397.0" y1="554.9" x2="397.0" y2="632.1" stroke="#111" stroke-width="1.3"/>
<line x1="396.4" y1="631.5" x2="472.0" y2="631.5" stroke="#111" stroke-width="1.3"/>
<line x1="393.6" y1="631.5" x2="397.0" y2="631.5" stroke="#111" stroke-width="1.1"/>
<text font-size="8.7" text-anchor="end" transform="translate(391.1 634.2) scale(0.925 1)">0</text>
<line x1="393.6" y1="613.0" x2="397.0" y2="613.0" stroke="#111" stroke-width="1.1"/>
<text font-size="8.7" text-anchor="end" transform="translate(391.1 615.7) scale(0.925 1)">20</text>
<line x1="393.6" y1="594.5" x2="397.0" y2="594.5" stroke="#111" stroke-width="1.1"/>
<text font-size="8.7" text-anchor="end" transform="translate(391.1 597.2) scale(0.925 1)">40</text>
<line x1="393.6" y1="576.0" x2="397.0" y2="576.0" stroke="#111" stroke-width="1.1"/>
<text font-size="8.7" text-anchor="end" transform="translate(391.1 578.7) scale(0.925 1)">60</text>
<line x1="393.6" y1="557.5" x2="397.0" y2="557.5" stroke="#111" stroke-width="1.1"/>
<text font-size="8.7" text-anchor="end" transform="translate(391.1 560.2) scale(0.925 1)">80</text>
<line x1="406.0" y1="631.5" x2="406.0" y2="634.9" stroke="#111" stroke-width="1.1"/>
<line x1="424.8" y1="631.5" x2="424.8" y2="634.9" stroke="#111" stroke-width="1.1"/>
<line x1="443.2" y1="631.5" x2="443.2" y2="634.9" stroke="#111" stroke-width="1.1"/>
<line x1="461.7" y1="631.5" x2="461.7" y2="634.9" stroke="#111" stroke-width="1.1"/>
<text font-size="9.7" textLength="67.8" lengthAdjust="spacingAndGlyphs" transform="translate(363.6 629.4) rotate(-90)">Adhering platelets</text>
<text font-size="9.7" textLength="50.8" lengthAdjust="spacingAndGlyphs" transform="translate(375.2 620.9) rotate(-90)">(% coverage)</text>
<path d="M405.6 570.5V548H460.3V552.8" fill="none" stroke="#111" stroke-width="1.0"/>
<path d="M405.6 557.5H443.3V562.2" fill="none" stroke="#111" stroke-width="1.0"/>
<path d="M405.6 566.1H424.8V570.5" fill="none" stroke="#111" stroke-width="1.0"/>
<text font-size="8.5" text-anchor="middle" font-weight="bold" transform="translate(432.7 548.2) scale(0.925 1)">*</text>
<text font-size="7.9" text-anchor="middle" transform="translate(424.2 554.6)">n.s.</text>
<text font-size="8.5" text-anchor="middle" font-weight="bold" transform="translate(415.4 566.7) scale(0.925 1)">*</text>
<text font-size="8.7" text-anchor="end" textLength="31.0" lengthAdjust="spacingAndGlyphs" transform="translate(395.7 644.2)">Wilfactin</text>
<text font-size="8.7" text-anchor="end" textLength="25.2" lengthAdjust="spacingAndGlyphs" transform="translate(395.5 656.3)">α-RGD</text>
<text font-size="7.9" text-anchor="middle" transform="translate(406.0 644.0)">-</text>
<text font-size="7.9" text-anchor="middle" transform="translate(406.0 656.2)">-</text>
<text font-size="7.9" text-anchor="middle" transform="translate(424.8 644.0)">-</text>
<text font-size="7.9" text-anchor="middle" transform="translate(424.8 656.2)">-</text>
<text font-size="7.9" text-anchor="middle" transform="translate(443.2 644.0)">+</text>
<text font-size="7.9" text-anchor="middle" transform="translate(443.2 656.2)">-</text>
<text font-size="7.9" text-anchor="middle" transform="translate(461.7 644.0)">+</text>
<text font-size="7.9" text-anchor="middle" transform="translate(461.7 656.2)">+</text>
<line x1="418.9" y1="661.7" x2="468.0" y2="661.7" stroke="#111" stroke-width="1.1"/>
<text font-size="8.7" transform="translate(395.4 672.5) scale(0.925 1)"><tspan font-style="italic">Vwf</tspan><tspan dx="1.8" dy="-3.2" font-size="6">+/+</tspan></text>
<text font-size="8.7" transform="translate(433.0 672.5) scale(0.925 1)"><tspan font-style="italic">Vwf</tspan><tspan dx="1.6" dy="-3.6" font-size="5">-/-</tspan></text>
</svg></body></html>
